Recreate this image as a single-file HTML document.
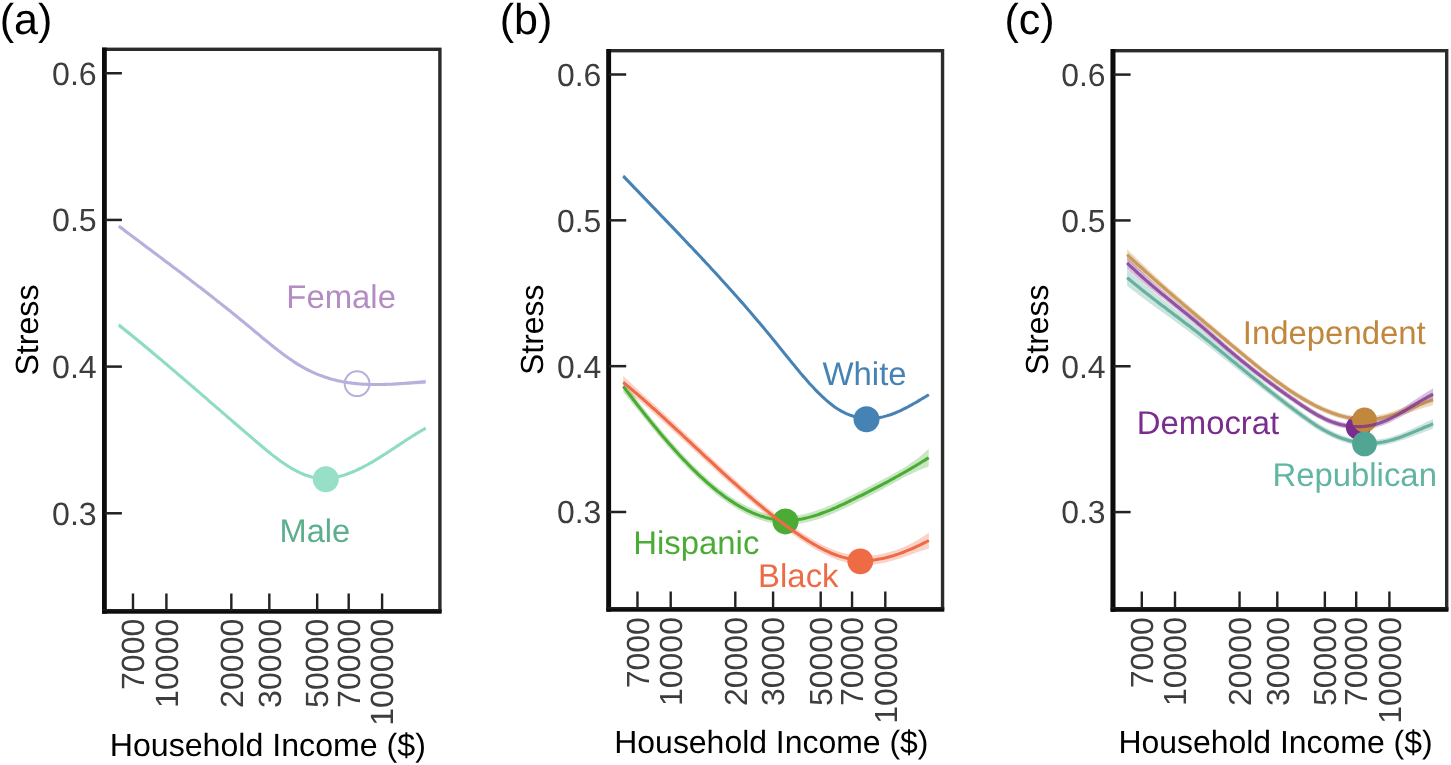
<!DOCTYPE html>
<html lang="en"><head><meta charset="utf-8"><title>Stress vs household income</title>
<style>html,body{margin:0;padding:0;background:#fff;}body{width:1451px;height:765px;overflow:hidden;font-family:"Liberation Sans", sans-serif;}svg text{font-family:"Liberation Sans",sans-serif;text-rendering:geometricPrecision;}#wrap{will-change:transform;transform:translateZ(0);opacity:0.9999;}</style></head>
<body>
<div id="wrap">
<svg width="1451" height="765" viewBox="0 0 1451 765" font-family='"Liberation Sans", sans-serif' style="display:block">
<rect width="1451" height="765" fill="#fff"/>
<g id="panel-a">
<path d="M118.8,224.4 L120.7,225.8 L122.7,227.3 L124.6,228.8 L126.5,230.3 L128.5,231.7 L130.4,233.2 L132.3,234.7 L134.2,236.1 L136.2,237.6 L138.1,239.1 L140.0,240.6 L142.0,242.0 L143.9,243.5 L145.8,245.0 L147.8,246.4 L149.7,247.9 L151.6,249.4 L153.5,250.8 L155.5,252.3 L157.4,253.8 L159.3,255.3 L161.3,256.7 L163.2,258.2 L165.1,259.7 L167.1,261.2 L169.0,262.6 L170.9,264.1 L172.8,265.6 L174.8,267.1 L176.7,268.6 L178.6,270.0 L180.6,271.5 L182.5,273.0 L184.4,274.5 L186.4,276.0 L188.3,277.5 L190.2,279.0 L192.1,280.5 L194.1,282.0 L196.0,283.5 L197.9,285.0 L199.9,286.5 L201.8,288.0 L203.7,289.5 L205.7,291.0 L207.6,292.5 L209.5,294.0 L211.4,295.5 L213.4,297.1 L215.3,298.6 L217.2,300.1 L219.2,301.6 L221.1,303.1 L223.0,304.7 L225.0,306.2 L226.9,307.7 L228.8,309.3 L230.8,310.8 L232.7,312.4 L234.6,313.9 L236.5,315.5 L238.5,317.1 L240.4,318.7 L242.3,320.2 L244.3,321.8 L246.2,323.4 L248.1,325.0 L250.1,326.6 L252.0,328.2 L253.9,329.8 L255.8,331.4 L257.8,333.0 L259.7,334.6 L261.6,336.3 L263.6,337.9 L265.5,339.4 L267.4,341.0 L269.4,342.6 L271.3,344.2 L273.2,345.7 L275.1,347.3 L277.1,348.8 L279.0,350.3 L280.9,351.7 L282.9,353.2 L284.8,354.6 L286.7,356.0 L288.7,357.4 L290.6,358.7 L292.5,360.0 L294.4,361.3 L296.4,362.6 L298.3,363.8 L300.2,364.9 L302.2,366.0 L304.1,367.1 L306.0,368.2 L308.0,369.2 L309.9,370.1 L311.8,371.0 L313.7,371.9 L315.7,372.8 L317.6,373.6 L319.5,374.3 L321.5,375.0 L323.4,375.7 L325.3,376.4 L327.3,377.0 L329.2,377.6 L331.1,378.2 L333.1,378.7 L335.0,379.2 L336.9,379.7 L338.8,380.1 L340.8,380.5 L342.7,380.9 L344.6,381.2 L346.6,381.6 L348.5,381.9 L350.4,382.1 L352.4,382.4 L354.3,382.6 L356.2,382.8 L358.1,383.0 L360.1,383.2 L362.0,383.3 L363.9,383.4 L365.9,383.5 L367.8,383.6 L369.7,383.7 L371.7,383.7 L373.6,383.7 L375.5,383.7 L377.4,383.7 L379.4,383.7 L381.3,383.7 L383.2,383.6 L385.2,383.4 L387.1,383.3 L389.0,383.2 L391.0,383.0 L392.9,382.9 L394.8,382.7 L396.7,382.6 L398.7,382.4 L400.6,382.2 L402.5,382.0 L404.5,381.8 L406.4,381.6 L408.3,381.4 L410.3,381.2 L412.2,381.0 L414.1,380.8 L416.0,380.6 L418.0,380.4 L419.9,380.2 L421.8,380.0 L423.8,379.8 L425.7,379.6 L425.7,384.0 L423.8,384.1 L421.8,384.2 L419.9,384.3 L418.0,384.3 L416.0,384.4 L414.1,384.5 L412.2,384.6 L410.3,384.7 L408.3,384.8 L406.4,384.8 L404.5,384.9 L402.5,385.0 L400.6,385.1 L398.7,385.1 L396.7,385.2 L394.8,385.2 L392.9,385.3 L391.0,385.3 L389.0,385.3 L387.1,385.4 L385.2,385.4 L383.2,385.4 L381.3,385.3 L379.4,385.3 L377.4,385.3 L375.5,385.3 L373.6,385.3 L371.7,385.3 L369.7,385.3 L367.8,385.2 L365.9,385.1 L363.9,385.0 L362.0,384.9 L360.1,384.8 L358.1,384.6 L356.2,384.4 L354.3,384.2 L352.4,384.0 L350.4,383.7 L348.5,383.5 L346.6,383.2 L344.6,382.8 L342.7,382.5 L340.8,382.1 L338.8,381.7 L336.9,381.3 L335.0,380.8 L333.1,380.3 L331.1,379.8 L329.2,379.2 L327.3,378.6 L325.3,378.0 L323.4,377.3 L321.5,376.6 L319.5,375.9 L317.6,375.2 L315.7,374.4 L313.7,373.5 L311.8,372.6 L309.9,371.7 L308.0,370.8 L306.0,369.8 L304.1,368.7 L302.2,367.6 L300.2,366.5 L298.3,365.4 L296.4,364.2 L294.4,362.9 L292.5,361.6 L290.6,360.3 L288.7,359.0 L286.7,357.6 L284.8,356.2 L282.9,354.8 L280.9,353.3 L279.0,351.9 L277.1,350.4 L275.1,348.9 L273.2,347.3 L271.3,345.8 L269.4,344.2 L267.4,342.6 L265.5,341.0 L263.6,339.5 L261.6,337.9 L259.7,336.2 L257.8,334.6 L255.8,333.0 L253.9,331.4 L252.0,329.8 L250.1,328.2 L248.1,326.6 L246.2,325.0 L244.3,323.4 L242.3,321.8 L240.4,320.3 L238.5,318.7 L236.5,317.1 L234.6,315.5 L232.7,314.0 L230.8,312.4 L228.8,310.9 L226.9,309.3 L225.0,307.8 L223.0,306.3 L221.1,304.7 L219.2,303.2 L217.2,301.7 L215.3,300.2 L213.4,298.7 L211.4,297.1 L209.5,295.6 L207.6,294.1 L205.7,292.6 L203.7,291.1 L201.8,289.6 L199.9,288.1 L197.9,286.7 L196.0,285.2 L194.1,283.8 L192.1,282.3 L190.2,280.8 L188.3,279.4 L186.4,277.9 L184.4,276.5 L182.5,275.1 L180.6,273.6 L178.6,272.2 L176.7,270.7 L174.8,269.3 L172.8,267.9 L170.9,266.4 L169.0,265.0 L167.1,263.6 L165.1,262.1 L163.2,260.7 L161.3,259.3 L159.3,257.8 L157.4,256.4 L155.5,255.0 L153.5,253.6 L151.6,252.1 L149.7,250.7 L147.8,249.3 L145.8,247.9 L143.9,246.5 L142.0,245.0 L140.0,243.6 L138.1,242.2 L136.2,240.8 L134.2,239.3 L132.3,237.9 L130.4,236.5 L128.5,235.1 L126.5,233.7 L124.6,232.2 L122.7,230.8 L120.7,229.4 L118.8,227.9Z" fill="#b5b0dc" fill-opacity="0.35" stroke="none"/>
<path d="M118.8,226.2 L120.7,227.6 L122.7,229.1 L124.6,230.5 L126.5,232.0 L128.5,233.4 L130.4,234.9 L132.3,236.3 L134.2,237.7 L136.2,239.2 L138.1,240.6 L140.0,242.1 L142.0,243.5 L143.9,245.0 L145.8,246.4 L147.8,247.9 L149.7,249.3 L151.6,250.8 L153.5,252.2 L155.5,253.7 L157.4,255.1 L159.3,256.6 L161.3,258.0 L163.2,259.5 L165.1,260.9 L167.1,262.4 L169.0,263.8 L170.9,265.3 L172.8,266.7 L174.8,268.2 L176.7,269.6 L178.6,271.1 L180.6,272.6 L182.5,274.0 L184.4,275.5 L186.4,277.0 L188.3,278.4 L190.2,279.9 L192.1,281.4 L194.1,282.9 L196.0,284.4 L197.9,285.9 L199.9,287.3 L201.8,288.8 L203.7,290.3 L205.7,291.8 L207.6,293.3 L209.5,294.8 L211.4,296.3 L213.4,297.9 L215.3,299.4 L217.2,300.9 L219.2,302.4 L221.1,303.9 L223.0,305.5 L225.0,307.0 L226.9,308.5 L228.8,310.1 L230.8,311.6 L232.7,313.2 L234.6,314.7 L236.5,316.3 L238.5,317.9 L240.4,319.5 L242.3,321.0 L244.3,322.6 L246.2,324.2 L248.1,325.8 L250.1,327.4 L252.0,329.0 L253.9,330.6 L255.8,332.2 L257.8,333.8 L259.7,335.4 L261.6,337.1 L263.6,338.7 L265.5,340.2 L267.4,341.8 L269.4,343.4 L271.3,345.0 L273.2,346.5 L275.1,348.1 L277.1,349.6 L279.0,351.1 L280.9,352.5 L282.9,354.0 L284.8,355.4 L286.7,356.8 L288.7,358.2 L290.6,359.5 L292.5,360.8 L294.4,362.1 L296.4,363.4 L298.3,364.6 L300.2,365.7 L302.2,366.8 L304.1,367.9 L306.0,369.0 L308.0,370.0 L309.9,370.9 L311.8,371.8 L313.7,372.7 L315.7,373.6 L317.6,374.4 L319.5,375.1 L321.5,375.8 L323.4,376.5 L325.3,377.2 L327.3,377.8 L329.2,378.4 L331.1,379.0 L333.1,379.5 L335.0,380.0 L336.9,380.5 L338.8,380.9 L340.8,381.3 L342.7,381.7 L344.6,382.0 L346.6,382.4 L348.5,382.7 L350.4,382.9 L352.4,383.2 L354.3,383.4 L356.2,383.6 L358.1,383.8 L360.1,384.0 L362.0,384.1 L363.9,384.2 L365.9,384.3 L367.8,384.4 L369.7,384.5 L371.7,384.5 L373.6,384.5 L375.5,384.5 L377.4,384.5 L379.4,384.5 L381.3,384.5 L383.2,384.5 L385.2,384.4 L387.1,384.3 L389.0,384.3 L391.0,384.2 L392.9,384.1 L394.8,384.0 L396.7,383.9 L398.7,383.8 L400.6,383.6 L402.5,383.5 L404.5,383.4 L406.4,383.2 L408.3,383.1 L410.3,383.0 L412.2,382.8 L414.1,382.7 L416.0,382.5 L418.0,382.4 L419.9,382.2 L421.8,382.1 L423.8,382.0 L425.7,381.8" fill="none" stroke="#b5b0dc" stroke-width="3.1" stroke-opacity="1.0" stroke-linecap="butt" stroke-linejoin="round"/>
<path d="M118.8,322.5 L120.7,324.1 L122.7,325.7 L124.6,327.3 L126.5,328.9 L128.5,330.5 L130.4,332.1 L132.3,333.7 L134.2,335.3 L136.2,336.9 L138.1,338.6 L140.0,340.2 L142.0,341.8 L143.9,343.5 L145.8,345.1 L147.8,346.7 L149.7,348.4 L151.6,350.0 L153.5,351.7 L155.5,353.3 L157.4,355.0 L159.3,356.7 L161.3,358.3 L163.2,360.0 L165.1,361.7 L167.1,363.4 L169.0,365.0 L170.9,366.7 L172.8,368.4 L174.8,370.1 L176.7,371.8 L178.6,373.5 L180.6,375.1 L182.5,376.8 L184.4,378.5 L186.4,380.2 L188.3,381.9 L190.2,383.6 L192.1,385.3 L194.1,387.0 L196.0,388.7 L197.9,390.4 L199.9,392.1 L201.8,393.8 L203.7,395.5 L205.7,397.1 L207.6,398.8 L209.5,400.5 L211.4,402.2 L213.4,403.8 L215.3,405.5 L217.2,407.2 L219.2,408.8 L221.1,410.5 L223.0,412.2 L225.0,413.8 L226.9,415.5 L228.8,417.2 L230.8,418.8 L232.7,420.5 L234.6,422.2 L236.5,423.8 L238.5,425.5 L240.4,427.2 L242.3,428.8 L244.3,430.5 L246.2,432.2 L248.1,433.8 L250.1,435.5 L252.0,437.1 L253.9,438.8 L255.8,440.4 L257.8,442.1 L259.7,443.7 L261.6,445.4 L263.6,447.0 L265.5,448.6 L267.4,450.2 L269.4,451.7 L271.3,453.3 L273.2,454.8 L275.1,456.3 L277.1,457.7 L279.0,459.2 L280.9,460.6 L282.9,461.9 L284.8,463.2 L286.7,464.5 L288.7,465.7 L290.6,466.9 L292.5,468.1 L294.4,469.1 L296.4,470.2 L298.3,471.1 L300.2,472.0 L302.2,472.9 L304.1,473.7 L306.0,474.4 L308.0,475.0 L309.9,475.6 L311.8,476.1 L313.7,476.5 L315.7,476.9 L317.6,477.1 L319.5,477.3 L321.5,477.5 L323.4,477.5 L325.3,477.5 L327.3,477.4 L329.2,477.3 L331.1,477.1 L333.1,476.8 L335.0,476.5 L336.9,476.1 L338.8,475.7 L340.8,475.2 L342.7,474.7 L344.6,474.1 L346.6,473.4 L348.5,472.7 L350.4,472.0 L352.4,471.2 L354.3,470.4 L356.2,469.6 L358.1,468.7 L360.1,467.7 L362.0,466.8 L363.9,465.8 L365.9,464.7 L367.8,463.7 L369.7,462.6 L371.7,461.5 L373.6,460.4 L375.5,459.2 L377.4,458.0 L379.4,456.8 L381.3,455.6 L383.2,454.4 L385.2,453.1 L387.1,451.8 L389.0,450.5 L391.0,449.2 L392.9,447.9 L394.8,446.6 L396.7,445.3 L398.7,444.0 L400.6,442.7 L402.5,441.4 L404.5,440.1 L406.4,438.8 L408.3,437.6 L410.3,436.3 L412.2,435.0 L414.1,433.8 L416.0,432.5 L418.0,431.3 L419.9,430.1 L421.8,429.0 L423.8,427.8 L425.7,426.7 L425.7,429.7 L423.8,430.7 L421.8,431.8 L419.9,432.9 L418.0,434.1 L416.0,435.2 L414.1,436.4 L412.2,437.6 L410.3,438.8 L408.3,440.0 L406.4,441.2 L404.5,442.5 L402.5,443.7 L400.6,445.0 L398.7,446.2 L396.7,447.4 L394.8,448.7 L392.9,449.9 L391.0,451.2 L389.0,452.4 L387.1,453.6 L385.2,454.9 L383.2,456.1 L381.3,457.3 L379.4,458.4 L377.4,459.6 L375.5,460.8 L373.6,462.0 L371.7,463.1 L369.7,464.2 L367.8,465.3 L365.9,466.3 L363.9,467.4 L362.0,468.4 L360.1,469.3 L358.1,470.3 L356.2,471.2 L354.3,472.0 L352.4,472.8 L350.4,473.6 L348.5,474.3 L346.6,475.0 L344.6,475.7 L342.7,476.3 L340.8,476.8 L338.8,477.3 L336.9,477.7 L335.0,478.1 L333.1,478.4 L331.1,478.7 L329.2,478.9 L327.3,479.0 L325.3,479.1 L323.4,479.1 L321.5,479.1 L319.5,478.9 L317.6,478.7 L315.7,478.5 L313.7,478.1 L311.8,477.7 L309.9,477.2 L308.0,476.6 L306.0,476.0 L304.1,475.3 L302.2,474.5 L300.2,473.6 L298.3,472.7 L296.4,471.8 L294.4,470.7 L292.5,469.7 L290.6,468.5 L288.7,467.3 L286.7,466.1 L284.8,464.8 L282.9,463.5 L280.9,462.2 L279.0,460.8 L277.1,459.3 L275.1,457.9 L273.2,456.4 L271.3,454.9 L269.4,453.3 L267.4,451.8 L265.5,450.2 L263.6,448.6 L261.6,447.0 L259.7,445.3 L257.8,443.7 L255.8,442.0 L253.9,440.4 L252.0,438.7 L250.1,437.1 L248.1,435.4 L246.2,433.8 L244.3,432.1 L242.3,430.4 L240.4,428.8 L238.5,427.1 L236.5,425.4 L234.6,423.8 L232.7,422.1 L230.8,420.4 L228.8,418.8 L226.9,417.1 L225.0,415.4 L223.0,413.8 L221.1,412.1 L219.2,410.4 L217.2,408.8 L215.3,407.1 L213.4,405.4 L211.4,403.8 L209.5,402.1 L207.6,400.4 L205.7,398.7 L203.7,397.1 L201.8,395.4 L199.9,393.8 L197.9,392.1 L196.0,390.5 L194.1,388.9 L192.1,387.3 L190.2,385.6 L188.3,384.0 L186.4,382.4 L184.4,380.8 L182.5,379.2 L180.6,377.6 L178.6,375.9 L176.7,374.3 L174.8,372.7 L172.8,371.1 L170.9,369.5 L169.0,367.9 L167.1,366.3 L165.1,364.7 L163.2,363.1 L161.3,361.5 L159.3,360.0 L157.4,358.4 L155.5,356.8 L153.5,355.2 L151.6,353.6 L149.7,352.1 L147.8,350.5 L145.8,348.9 L143.9,347.4 L142.0,345.8 L140.0,344.3 L138.1,342.7 L136.2,341.2 L134.2,339.6 L132.3,338.1 L130.4,336.6 L128.5,335.0 L126.5,333.5 L124.6,332.0 L122.7,330.5 L120.7,329.0 L118.8,327.5Z" fill="#8fdcc2" fill-opacity="0.35" stroke="none"/>
<path d="M118.8,325.0 L120.7,326.5 L122.7,328.1 L124.6,329.6 L126.5,331.2 L128.5,332.8 L130.4,334.3 L132.3,335.9 L134.2,337.5 L136.2,339.0 L138.1,340.6 L140.0,342.2 L142.0,343.8 L143.9,345.4 L145.8,347.0 L147.8,348.6 L149.7,350.2 L151.6,351.8 L153.5,353.5 L155.5,355.1 L157.4,356.7 L159.3,358.3 L161.3,359.9 L163.2,361.6 L165.1,363.2 L167.1,364.8 L169.0,366.5 L170.9,368.1 L172.8,369.8 L174.8,371.4 L176.7,373.1 L178.6,374.7 L180.6,376.4 L182.5,378.0 L184.4,379.7 L186.4,381.3 L188.3,383.0 L190.2,384.6 L192.1,386.3 L194.1,388.0 L196.0,389.6 L197.9,391.3 L199.9,392.9 L201.8,394.6 L203.7,396.3 L205.7,397.9 L207.6,399.6 L209.5,401.3 L211.4,403.0 L213.4,404.6 L215.3,406.3 L217.2,408.0 L219.2,409.6 L221.1,411.3 L223.0,413.0 L225.0,414.6 L226.9,416.3 L228.8,418.0 L230.8,419.6 L232.7,421.3 L234.6,423.0 L236.5,424.6 L238.5,426.3 L240.4,428.0 L242.3,429.6 L244.3,431.3 L246.2,433.0 L248.1,434.6 L250.1,436.3 L252.0,437.9 L253.9,439.6 L255.8,441.2 L257.8,442.9 L259.7,444.5 L261.6,446.2 L263.6,447.8 L265.5,449.4 L267.4,451.0 L269.4,452.5 L271.3,454.1 L273.2,455.6 L275.1,457.1 L277.1,458.5 L279.0,460.0 L280.9,461.4 L282.9,462.7 L284.8,464.0 L286.7,465.3 L288.7,466.5 L290.6,467.7 L292.5,468.9 L294.4,469.9 L296.4,471.0 L298.3,471.9 L300.2,472.8 L302.2,473.7 L304.1,474.5 L306.0,475.2 L308.0,475.8 L309.9,476.4 L311.8,476.9 L313.7,477.3 L315.7,477.7 L317.6,477.9 L319.5,478.1 L321.5,478.3 L323.4,478.3 L325.3,478.3 L327.3,478.2 L329.2,478.1 L331.1,477.9 L333.1,477.6 L335.0,477.3 L336.9,476.9 L338.8,476.5 L340.8,476.0 L342.7,475.5 L344.6,474.9 L346.6,474.2 L348.5,473.5 L350.4,472.8 L352.4,472.0 L354.3,471.2 L356.2,470.4 L358.1,469.5 L360.1,468.5 L362.0,467.6 L363.9,466.6 L365.9,465.5 L367.8,464.5 L369.7,463.4 L371.7,462.3 L373.6,461.2 L375.5,460.0 L377.4,458.8 L379.4,457.6 L381.3,456.4 L383.2,455.2 L385.2,454.0 L387.1,452.7 L389.0,451.5 L391.0,450.2 L392.9,448.9 L394.8,447.7 L396.7,446.4 L398.7,445.1 L400.6,443.8 L402.5,442.6 L404.5,441.3 L406.4,440.0 L408.3,438.8 L410.3,437.5 L412.2,436.3 L414.1,435.1 L416.0,433.9 L418.0,432.7 L419.9,431.5 L421.8,430.4 L423.8,429.3 L425.7,428.2" fill="none" stroke="#8fdcc2" stroke-width="3.1" stroke-opacity="1.0" stroke-linecap="butt" stroke-linejoin="round"/>
<circle cx="357.1" cy="383.7" r="12.4" fill="none" stroke="#b5b0dc" stroke-width="2.0"/>
<circle cx="325.8" cy="479.3" r="13" fill="#98dfc8"/>
<text x="286.30" y="307.80" font-size="32.9" fill="#b48cc4">Female</text>
<text x="279.50" y="541.60" font-size="32.6" fill="#5cae8c">Male</text>
<rect x="103.70" y="49.30" width="336.20" height="561.50" fill="none" stroke="#2b2b2b" stroke-width="3.40"/>
<rect x="102.00" y="47.60" width="4.80" height="566.10" fill="#0c0c0c"/>
<rect x="102.00" y="610.20" width="339.60" height="3.50" fill="#0c0c0c"/>
<rect x="102.00" y="609.00" width="339.60" height="1.6" fill="#1d1d1d"/>
<rect x="104.80" y="72.00" width="17.10" height="2.5" fill="#222"/>
<text x="96.70" y="84.66" font-size="32.15" fill="#3d3d3d" text-anchor="end">0.6</text>
<rect x="104.80" y="218.68" width="17.10" height="2.5" fill="#222"/>
<text x="96.70" y="231.34" font-size="32.15" fill="#3d3d3d" text-anchor="end">0.5</text>
<rect x="104.80" y="365.36" width="17.10" height="2.5" fill="#222"/>
<text x="96.70" y="378.02" font-size="32.15" fill="#3d3d3d" text-anchor="end">0.4</text>
<rect x="104.80" y="512.04" width="17.10" height="2.5" fill="#222"/>
<text x="96.70" y="524.70" font-size="32.15" fill="#3d3d3d" text-anchor="end">0.3</text>
<rect x="131.79" y="593.50" width="2.4" height="17" fill="#222"/>
<text transform="translate(144.30,618.50) rotate(-90)" font-size="32.15" fill="#3d3d3d" text-anchor="end">7000</text>
<rect x="165.20" y="593.50" width="2.4" height="17" fill="#222"/>
<text transform="translate(177.71,618.50) rotate(-90)" font-size="32.15" fill="#3d3d3d" text-anchor="end">10000</text>
<rect x="230.13" y="593.50" width="2.4" height="17" fill="#222"/>
<text transform="translate(242.64,618.50) rotate(-90)" font-size="32.15" fill="#3d3d3d" text-anchor="end">20000</text>
<rect x="268.12" y="593.50" width="2.4" height="17" fill="#222"/>
<text transform="translate(280.62,618.50) rotate(-90)" font-size="32.15" fill="#3d3d3d" text-anchor="end">30000</text>
<rect x="315.97" y="593.50" width="2.4" height="17" fill="#222"/>
<text transform="translate(328.48,618.50) rotate(-90)" font-size="32.15" fill="#3d3d3d" text-anchor="end">50000</text>
<rect x="347.49" y="593.50" width="2.4" height="17" fill="#222"/>
<text transform="translate(360.00,618.50) rotate(-90)" font-size="32.15" fill="#3d3d3d" text-anchor="end">70000</text>
<rect x="380.90" y="593.50" width="2.4" height="17" fill="#222"/>
<text transform="translate(393.41,618.50) rotate(-90)" font-size="32.15" fill="#3d3d3d" text-anchor="end">100000</text>
<text transform="translate(38.40,330.05) rotate(-90)" font-size="32.15" fill="#000" text-anchor="middle">Stress</text>
<text x="109.70" y="755.80" font-size="32.15" fill="#000">Household Income ($)</text>
<text x="-0.30" y="34.00" font-size="43" fill="#000">(a)</text>
</g>
<g id="panel-b">
<path d="M623.3,174.1 L625.2,176.2 L627.1,178.2 L629.1,180.3 L631.0,182.3 L632.9,184.4 L634.8,186.4 L636.8,188.4 L638.7,190.5 L640.6,192.5 L642.5,194.5 L644.4,196.6 L646.4,198.6 L648.3,200.7 L650.2,202.7 L652.1,204.7 L654.1,206.8 L656.0,208.8 L657.9,210.8 L659.8,212.9 L661.7,214.9 L663.7,217.0 L665.6,219.0 L667.5,221.0 L669.4,223.1 L671.4,225.1 L673.3,227.2 L675.2,229.2 L677.1,231.3 L679.0,233.3 L681.0,235.4 L682.9,237.4 L684.8,239.4 L686.7,241.4 L688.6,243.5 L690.6,245.5 L692.5,247.5 L694.4,249.6 L696.3,251.6 L698.3,253.7 L700.2,255.7 L702.1,257.8 L704.0,259.8 L705.9,261.9 L707.9,264.0 L709.8,266.0 L711.7,268.1 L713.6,270.2 L715.6,272.3 L717.5,274.4 L719.4,276.5 L721.3,278.6 L723.2,280.7 L725.2,282.9 L727.1,285.0 L729.0,287.1 L730.9,289.3 L732.9,291.4 L734.8,293.6 L736.7,295.8 L738.6,297.9 L740.5,300.1 L742.5,302.3 L744.4,304.5 L746.3,306.7 L748.2,309.0 L750.2,311.2 L752.1,313.4 L754.0,315.7 L755.9,317.9 L757.8,320.2 L759.8,322.5 L761.7,324.7 L763.6,327.0 L765.5,329.3 L767.5,331.7 L769.4,334.0 L771.3,336.3 L773.2,338.7 L775.1,341.0 L777.1,343.4 L779.0,345.8 L780.9,348.2 L782.8,350.6 L784.7,353.0 L786.7,355.4 L788.6,357.7 L790.5,360.1 L792.4,362.5 L794.4,364.8 L796.3,367.2 L798.2,369.5 L800.1,371.8 L802.0,374.1 L804.0,376.3 L805.9,378.5 L807.8,380.7 L809.7,382.9 L811.7,385.0 L813.6,387.0 L815.5,389.1 L817.4,391.0 L819.3,392.9 L821.3,394.8 L823.2,396.6 L825.1,398.4 L827.0,400.0 L829.0,401.7 L830.9,403.2 L832.8,404.7 L834.7,406.1 L836.6,407.4 L838.6,408.7 L840.5,409.8 L842.4,410.9 L844.3,411.9 L846.3,412.8 L848.2,413.6 L850.1,414.4 L852.0,415.0 L853.9,415.6 L855.9,416.2 L857.8,416.6 L859.7,417.0 L861.6,417.3 L863.6,417.5 L865.5,417.6 L867.4,417.7 L869.3,417.7 L871.2,417.7 L873.2,417.6 L875.1,417.4 L877.0,417.2 L878.9,416.9 L880.8,416.5 L882.8,416.1 L884.7,415.6 L886.6,415.1 L888.5,414.5 L890.5,413.9 L892.4,413.2 L894.3,412.5 L896.2,411.7 L898.1,410.9 L900.1,410.0 L902.0,409.1 L903.9,408.1 L905.8,407.2 L907.8,406.2 L909.7,405.1 L911.6,404.1 L913.5,403.0 L915.4,401.9 L917.4,400.8 L919.3,399.6 L921.2,398.5 L923.1,397.3 L925.1,396.2 L927.0,395.0 L928.9,393.9 L928.9,395.5 L927.0,396.6 L925.1,397.8 L923.1,398.9 L921.2,400.1 L919.3,401.2 L917.4,402.4 L915.4,403.5 L913.5,404.6 L911.6,405.7 L909.7,406.7 L907.8,407.8 L905.8,408.8 L903.9,409.7 L902.0,410.7 L900.1,411.6 L898.1,412.5 L896.2,413.3 L894.3,414.1 L892.4,414.8 L890.5,415.5 L888.5,416.1 L886.6,416.7 L884.7,417.2 L882.8,417.7 L880.8,418.1 L878.9,418.5 L877.0,418.8 L875.1,419.0 L873.2,419.2 L871.2,419.3 L869.3,419.3 L867.4,419.3 L865.5,419.2 L863.6,419.1 L861.6,418.9 L859.7,418.6 L857.8,418.2 L855.9,417.8 L853.9,417.2 L852.0,416.6 L850.1,416.0 L848.2,415.2 L846.3,414.4 L844.3,413.5 L842.4,412.5 L840.5,411.4 L838.6,410.3 L836.6,409.0 L834.7,407.7 L832.8,406.3 L830.9,404.8 L829.0,403.3 L827.0,401.6 L825.1,400.0 L823.2,398.2 L821.3,396.4 L819.3,394.5 L817.4,392.6 L815.5,390.7 L813.6,388.6 L811.7,386.6 L809.7,384.5 L807.8,382.3 L805.9,380.1 L804.0,377.9 L802.0,375.7 L800.1,373.4 L798.2,371.1 L796.3,368.8 L794.4,366.4 L792.4,364.1 L790.5,361.7 L788.6,359.3 L786.7,357.0 L784.7,354.6 L782.8,352.2 L780.9,349.8 L779.0,347.4 L777.1,345.0 L775.1,342.6 L773.2,340.3 L771.3,337.9 L769.4,335.6 L767.5,333.3 L765.5,330.9 L763.6,328.6 L761.7,326.3 L759.8,324.1 L757.8,321.8 L755.9,319.5 L754.0,317.3 L752.1,315.0 L750.2,312.8 L748.2,310.6 L746.3,308.3 L744.4,306.1 L742.5,303.9 L740.5,301.7 L738.6,299.5 L736.7,297.4 L734.8,295.2 L732.9,293.0 L730.9,290.9 L729.0,288.7 L727.1,286.6 L725.2,284.5 L723.2,282.3 L721.3,280.2 L719.4,278.1 L717.5,276.0 L715.6,273.9 L713.6,271.8 L711.7,269.7 L709.8,267.6 L707.9,265.6 L705.9,263.5 L704.0,261.4 L702.1,259.4 L700.2,257.3 L698.3,255.3 L696.3,253.2 L694.4,251.2 L692.5,249.1 L690.6,247.1 L688.6,245.1 L686.7,243.0 L684.8,241.0 L682.9,239.0 L681.0,237.0 L679.0,235.0 L677.1,233.0 L675.2,231.0 L673.3,229.1 L671.4,227.1 L669.4,225.1 L667.5,223.2 L665.6,221.2 L663.7,219.2 L661.7,217.3 L659.8,215.3 L657.9,213.4 L656.0,211.4 L654.1,209.5 L652.1,207.5 L650.2,205.5 L648.3,203.6 L646.4,201.6 L644.4,199.7 L642.5,197.7 L640.6,195.8 L638.7,193.8 L636.8,191.9 L634.8,189.9 L632.9,187.9 L631.0,186.0 L629.1,184.0 L627.1,182.0 L625.2,180.1 L623.3,178.1Z" fill="#4682b4" fill-opacity="0.35" stroke="none"/>
<path d="M623.3,176.1 L625.2,178.1 L627.1,180.1 L629.1,182.1 L631.0,184.1 L632.9,186.1 L634.8,188.1 L636.8,190.1 L638.7,192.1 L640.6,194.1 L642.5,196.1 L644.4,198.1 L646.4,200.1 L648.3,202.1 L650.2,204.1 L652.1,206.1 L654.1,208.1 L656.0,210.1 L657.9,212.1 L659.8,214.1 L661.7,216.1 L663.7,218.1 L665.6,220.1 L667.5,222.1 L669.4,224.1 L671.4,226.1 L673.3,228.1 L675.2,230.1 L677.1,232.1 L679.0,234.1 L681.0,236.2 L682.9,238.2 L684.8,240.2 L686.7,242.2 L688.6,244.3 L690.6,246.3 L692.5,248.3 L694.4,250.4 L696.3,252.4 L698.3,254.5 L700.2,256.5 L702.1,258.6 L704.0,260.6 L705.9,262.7 L707.9,264.8 L709.8,266.8 L711.7,268.9 L713.6,271.0 L715.6,273.1 L717.5,275.2 L719.4,277.3 L721.3,279.4 L723.2,281.5 L725.2,283.7 L727.1,285.8 L729.0,287.9 L730.9,290.1 L732.9,292.2 L734.8,294.4 L736.7,296.6 L738.6,298.7 L740.5,300.9 L742.5,303.1 L744.4,305.3 L746.3,307.5 L748.2,309.8 L750.2,312.0 L752.1,314.2 L754.0,316.5 L755.9,318.7 L757.8,321.0 L759.8,323.3 L761.7,325.5 L763.6,327.8 L765.5,330.1 L767.5,332.5 L769.4,334.8 L771.3,337.1 L773.2,339.5 L775.1,341.8 L777.1,344.2 L779.0,346.6 L780.9,349.0 L782.8,351.4 L784.7,353.8 L786.7,356.2 L788.6,358.5 L790.5,360.9 L792.4,363.3 L794.4,365.6 L796.3,368.0 L798.2,370.3 L800.1,372.6 L802.0,374.9 L804.0,377.1 L805.9,379.3 L807.8,381.5 L809.7,383.7 L811.7,385.8 L813.6,387.8 L815.5,389.9 L817.4,391.8 L819.3,393.7 L821.3,395.6 L823.2,397.4 L825.1,399.2 L827.0,400.8 L829.0,402.5 L830.9,404.0 L832.8,405.5 L834.7,406.9 L836.6,408.2 L838.6,409.5 L840.5,410.6 L842.4,411.7 L844.3,412.7 L846.3,413.6 L848.2,414.4 L850.1,415.2 L852.0,415.8 L853.9,416.4 L855.9,417.0 L857.8,417.4 L859.7,417.8 L861.6,418.1 L863.6,418.3 L865.5,418.4 L867.4,418.5 L869.3,418.5 L871.2,418.5 L873.2,418.4 L875.1,418.2 L877.0,418.0 L878.9,417.7 L880.8,417.3 L882.8,416.9 L884.7,416.4 L886.6,415.9 L888.5,415.3 L890.5,414.7 L892.4,414.0 L894.3,413.3 L896.2,412.5 L898.1,411.7 L900.1,410.8 L902.0,409.9 L903.9,408.9 L905.8,408.0 L907.8,407.0 L909.7,405.9 L911.6,404.9 L913.5,403.8 L915.4,402.7 L917.4,401.6 L919.3,400.4 L921.2,399.3 L923.1,398.1 L925.1,397.0 L927.0,395.8 L928.9,394.7" fill="none" stroke="#4682b4" stroke-width="3.05" stroke-opacity="1.0" stroke-linecap="butt" stroke-linejoin="round"/>
<path d="M623.3,380.4 L625.2,383.1 L627.1,385.8 L629.1,388.5 L631.0,391.2 L632.9,393.8 L634.8,396.5 L636.7,399.1 L638.7,401.8 L640.6,404.3 L642.5,406.8 L644.4,409.2 L646.3,411.7 L648.3,414.1 L650.2,416.5 L652.1,418.9 L654.0,421.2 L656.0,423.6 L657.9,425.9 L659.8,428.2 L661.7,430.5 L663.6,432.8 L665.6,435.1 L667.5,437.3 L669.4,439.5 L671.3,441.7 L673.2,443.9 L675.2,446.1 L677.1,448.2 L679.0,450.3 L680.9,452.4 L682.8,454.5 L684.8,456.5 L686.7,458.5 L688.6,460.5 L690.5,462.5 L692.4,464.4 L694.4,466.3 L696.3,468.2 L698.2,470.1 L700.1,471.9 L702.1,473.7 L704.0,475.4 L705.9,477.2 L707.8,478.9 L709.7,480.6 L711.7,482.2 L713.6,483.8 L715.5,485.4 L717.4,486.9 L719.3,488.4 L721.3,489.9 L723.2,491.3 L725.1,492.7 L727.0,494.1 L728.9,495.4 L730.9,496.7 L732.8,498.0 L734.7,499.2 L736.6,500.4 L738.5,501.6 L740.5,502.7 L742.4,503.7 L744.3,504.8 L746.2,505.8 L748.1,506.7 L750.1,507.6 L752.0,508.5 L753.9,509.3 L755.8,510.1 L757.8,510.8 L759.7,511.5 L761.6,512.2 L763.5,512.8 L765.4,513.3 L767.4,513.9 L769.3,514.3 L771.2,514.8 L773.1,515.1 L775.0,515.5 L777.0,515.7 L778.9,516.0 L780.8,516.1 L782.7,516.3 L784.6,516.4 L786.6,516.4 L788.5,516.3 L790.4,516.2 L792.3,516.0 L794.2,515.8 L796.2,515.6 L798.1,515.3 L800.0,515.0 L801.9,514.6 L803.9,514.2 L805.8,513.7 L807.7,513.2 L809.6,512.7 L811.5,512.2 L813.5,511.6 L815.4,510.9 L817.3,510.3 L819.2,509.6 L821.1,508.9 L823.1,508.2 L825.0,507.4 L826.9,506.6 L828.8,505.8 L830.7,505.0 L832.7,504.2 L834.6,503.3 L836.5,502.5 L838.4,501.6 L840.3,500.7 L842.3,499.9 L844.2,499.0 L846.1,498.0 L848.0,497.1 L849.9,496.2 L851.9,495.2 L853.8,494.3 L855.7,493.4 L857.6,492.4 L859.6,491.4 L861.5,490.5 L863.4,489.5 L865.3,488.5 L867.2,487.6 L869.2,486.6 L871.1,485.6 L873.0,484.6 L874.9,483.6 L876.8,482.6 L878.8,481.6 L880.7,480.6 L882.6,479.6 L884.5,478.5 L886.4,477.5 L888.4,476.5 L890.3,475.4 L892.2,474.4 L894.1,473.3 L896.0,472.2 L898.0,471.2 L899.9,470.1 L901.8,469.0 L903.7,467.9 L905.7,466.7 L907.6,465.4 L909.5,464.1 L911.4,462.8 L913.3,461.4 L915.3,460.1 L917.2,458.7 L919.1,457.2 L921.0,455.6 L922.9,453.9 L924.9,452.3 L926.8,450.6 L928.7,448.9 L928.7,466.6 L926.8,467.3 L924.9,468.0 L922.9,468.7 L921.0,469.4 L919.1,470.1 L917.2,470.9 L915.3,471.9 L913.3,472.8 L911.4,473.7 L909.5,474.7 L907.6,475.6 L905.7,476.5 L903.7,477.5 L901.8,478.6 L899.9,479.7 L898.0,480.8 L896.0,481.8 L894.1,482.9 L892.2,484.0 L890.3,485.0 L888.4,486.1 L886.4,487.1 L884.5,488.1 L882.6,489.2 L880.7,490.2 L878.8,491.2 L876.8,492.2 L874.9,493.2 L873.0,494.2 L871.1,495.2 L869.2,496.2 L867.2,497.2 L865.3,498.1 L863.4,499.1 L861.5,500.1 L859.6,501.0 L857.6,502.0 L855.7,503.0 L853.8,503.9 L851.9,504.8 L849.9,505.8 L848.0,506.7 L846.1,507.6 L844.2,508.6 L842.3,509.5 L840.3,510.3 L838.4,511.2 L836.5,512.1 L834.6,512.9 L832.7,513.8 L830.7,514.6 L828.8,515.4 L826.9,516.1 L825.0,516.8 L823.1,517.5 L821.1,518.2 L819.2,518.8 L817.3,519.4 L815.4,520.0 L813.5,520.6 L811.5,521.1 L809.6,521.6 L807.7,522.0 L805.8,522.5 L803.9,522.8 L801.9,523.2 L800.0,523.5 L798.1,523.8 L796.2,524.0 L794.2,524.2 L792.3,524.3 L790.4,524.4 L788.5,524.4 L786.6,524.4 L784.6,524.4 L782.7,524.3 L780.8,524.2 L778.9,524.0 L777.0,523.8 L775.0,523.5 L773.1,523.2 L771.2,522.8 L769.3,522.4 L767.4,521.9 L765.4,521.4 L763.5,520.9 L761.6,520.3 L759.7,519.7 L757.8,519.0 L755.8,518.2 L753.9,517.5 L752.0,516.6 L750.1,515.8 L748.1,514.9 L746.2,514.0 L744.3,513.0 L742.4,511.9 L740.5,510.9 L738.5,509.8 L736.6,508.6 L734.7,507.5 L732.8,506.3 L730.9,505.0 L728.9,503.7 L727.0,502.4 L725.1,501.0 L723.2,499.6 L721.3,498.2 L719.3,496.7 L717.4,495.2 L715.5,493.7 L713.6,492.1 L711.7,490.5 L709.7,488.9 L707.8,487.2 L705.9,485.6 L704.0,483.8 L702.1,482.1 L700.1,480.3 L698.2,478.5 L696.3,476.7 L694.4,474.8 L692.4,472.9 L690.5,471.0 L688.6,469.1 L686.7,467.1 L684.8,465.1 L682.8,463.1 L680.9,461.1 L679.0,459.0 L677.1,456.9 L675.2,454.8 L673.2,452.7 L671.3,450.5 L669.4,448.4 L667.5,446.2 L665.6,443.9 L663.6,441.7 L661.7,439.5 L659.8,437.2 L657.9,434.9 L656.0,432.6 L654.0,430.3 L652.1,427.9 L650.2,425.5 L648.3,423.2 L646.3,420.8 L644.4,418.4 L642.5,416.0 L640.6,413.5 L638.7,411.2 L636.7,408.9 L634.8,406.5 L632.9,404.2 L631.0,401.8 L629.1,399.5 L627.1,397.1 L625.2,394.7 L623.3,392.3Z" fill="#4aac34" fill-opacity="0.3" stroke="none"/>
<path d="M623.3,375.9 L625.2,377.7 L627.1,379.5 L629.1,381.3 L631.0,383.1 L632.9,384.9 L634.8,386.7 L636.8,388.6 L638.7,390.4 L640.6,392.3 L642.5,394.0 L644.4,395.7 L646.4,397.4 L648.3,399.1 L650.2,400.8 L652.1,402.5 L654.1,404.3 L656.0,406.0 L657.9,407.8 L659.8,409.6 L661.7,411.3 L663.7,413.1 L665.6,414.9 L667.5,416.6 L669.4,418.4 L671.4,420.2 L673.3,422.0 L675.2,423.8 L677.1,425.6 L679.0,427.4 L681.0,429.2 L682.9,431.0 L684.8,432.8 L686.7,434.6 L688.6,436.4 L690.6,438.3 L692.5,440.1 L694.4,441.9 L696.3,443.7 L698.3,445.5 L700.2,447.3 L702.1,449.1 L704.0,450.9 L705.9,452.7 L707.9,454.5 L709.8,456.3 L711.7,458.1 L713.6,459.9 L715.6,461.7 L717.5,463.5 L719.4,465.2 L721.3,467.0 L723.2,468.8 L725.2,470.5 L727.1,472.3 L729.0,474.1 L730.9,475.8 L732.9,477.5 L734.8,479.3 L736.7,481.0 L738.6,482.7 L740.5,484.4 L742.5,486.1 L744.4,487.8 L746.3,489.5 L748.2,491.2 L750.2,492.8 L752.1,494.5 L754.0,496.1 L755.9,497.8 L757.8,499.4 L759.8,501.0 L761.7,502.6 L763.6,504.2 L765.5,505.8 L767.5,507.3 L769.4,508.9 L771.3,510.4 L773.2,512.0 L775.1,513.5 L777.1,515.0 L779.0,516.4 L780.9,517.9 L782.8,519.4 L784.7,520.8 L786.7,522.2 L788.6,523.6 L790.5,525.0 L792.4,526.3 L794.4,527.7 L796.3,529.0 L798.2,530.3 L800.1,531.6 L802.0,532.8 L804.0,534.1 L805.9,535.3 L807.8,536.5 L809.7,537.7 L811.7,538.8 L813.6,540.0 L815.5,541.1 L817.4,542.1 L819.3,543.2 L821.3,544.2 L823.2,545.2 L825.1,546.1 L827.0,547.0 L829.0,547.9 L830.9,548.7 L832.8,549.5 L834.7,550.2 L836.6,551.0 L838.6,551.6 L840.5,552.2 L842.4,552.8 L844.3,553.3 L846.3,553.8 L848.2,554.2 L850.1,554.6 L852.0,554.9 L853.9,555.2 L855.9,555.5 L857.8,555.7 L859.7,555.8 L861.6,555.9 L863.6,555.9 L865.5,555.9 L867.4,555.8 L869.3,555.7 L871.2,555.5 L873.2,555.3 L875.1,555.1 L877.0,554.8 L878.9,554.4 L880.8,554.1 L882.8,553.7 L884.7,553.2 L886.6,552.7 L888.5,552.2 L890.5,551.7 L892.4,551.1 L894.3,550.5 L896.2,549.9 L898.1,549.2 L900.1,548.5 L902.0,547.7 L903.9,547.0 L905.8,546.2 L907.8,545.2 L909.7,544.3 L911.6,543.3 L913.5,542.3 L915.4,541.3 L917.4,540.2 L919.3,539.1 L921.2,537.8 L923.1,536.5 L925.1,535.2 L927.0,533.9 L928.9,532.5 L928.9,548.5 L927.0,549.1 L925.1,549.8 L923.1,550.4 L921.2,551.0 L919.3,551.5 L917.4,552.1 L915.4,552.9 L913.5,553.6 L911.6,554.3 L909.7,555.0 L907.8,555.7 L905.8,556.3 L903.9,557.0 L902.0,557.7 L900.1,558.4 L898.1,559.0 L896.2,559.6 L894.3,560.2 L892.4,560.8 L890.5,561.3 L888.5,561.8 L886.6,562.3 L884.7,562.7 L882.8,563.1 L880.8,563.5 L878.9,563.8 L877.0,564.1 L875.1,564.3 L873.2,564.5 L871.2,564.7 L869.3,564.8 L867.4,564.8 L865.5,564.8 L863.6,564.8 L861.6,564.7 L859.7,564.6 L857.8,564.4 L855.9,564.2 L853.9,564.0 L852.0,563.7 L850.1,563.3 L848.2,562.9 L846.3,562.4 L844.3,562.0 L842.4,561.4 L840.5,560.8 L838.6,560.2 L836.6,559.5 L834.7,558.8 L832.8,558.0 L830.9,557.2 L829.0,556.3 L827.0,555.5 L825.1,554.5 L823.2,553.6 L821.3,552.6 L819.3,551.5 L817.4,550.5 L815.5,549.4 L813.6,548.3 L811.7,547.1 L809.7,545.9 L807.8,544.7 L805.9,543.5 L804.0,542.3 L802.0,541.0 L800.1,539.7 L798.2,538.4 L796.3,537.1 L794.4,535.8 L792.4,534.4 L790.5,533.0 L788.6,531.6 L786.7,530.2 L784.7,528.8 L782.8,527.4 L780.9,526.0 L779.0,524.5 L777.1,523.0 L775.1,521.6 L773.2,520.1 L771.3,518.6 L769.4,517.0 L767.5,515.5 L765.5,514.0 L763.6,512.4 L761.7,510.8 L759.8,509.2 L757.8,507.7 L755.9,506.0 L754.0,504.4 L752.1,502.8 L750.2,501.2 L748.2,499.5 L746.3,497.9 L744.4,496.2 L742.5,494.5 L740.5,492.8 L738.6,491.2 L736.7,489.5 L734.8,487.7 L732.9,486.0 L730.9,484.3 L729.0,482.6 L727.1,480.8 L725.2,479.1 L723.2,477.4 L721.3,475.6 L719.4,473.9 L717.5,472.1 L715.6,470.3 L713.6,468.6 L711.7,466.8 L709.8,465.0 L707.9,463.2 L705.9,461.5 L704.0,459.7 L702.1,457.9 L700.2,456.1 L698.3,454.3 L696.3,452.5 L694.4,450.8 L692.5,449.0 L690.6,447.2 L688.6,445.4 L686.7,443.6 L684.8,441.8 L682.9,440.0 L681.0,438.3 L679.0,436.5 L677.1,434.7 L675.2,432.9 L673.3,431.2 L671.4,429.4 L669.4,427.6 L667.5,425.9 L665.6,424.1 L663.7,422.4 L661.7,420.6 L659.8,418.9 L657.9,417.2 L656.0,415.4 L654.1,413.7 L652.1,412.0 L650.2,410.3 L648.3,408.6 L646.4,406.9 L644.4,405.2 L642.5,403.5 L640.6,401.9 L638.7,400.3 L636.8,398.8 L634.8,397.4 L632.9,395.9 L631.0,394.5 L629.1,393.1 L627.1,391.6 L625.2,390.2 L623.3,388.8Z" fill="#ee6b46" fill-opacity="0.3" stroke="none"/>
<path d="M623.3,386.4 L625.2,388.9 L627.1,391.5 L629.1,394.0 L631.0,396.5 L632.9,399.0 L634.8,401.5 L636.7,404.0 L638.7,406.5 L640.6,408.9 L642.5,411.4 L644.4,413.8 L646.3,416.2 L648.3,418.6 L650.2,421.0 L652.1,423.4 L654.0,425.7 L656.0,428.1 L657.9,430.4 L659.8,432.7 L661.7,435.0 L663.6,437.3 L665.6,439.5 L667.5,441.7 L669.4,443.9 L671.3,446.1 L673.2,448.3 L675.2,450.4 L677.1,452.6 L679.0,454.7 L680.9,456.7 L682.8,458.8 L684.8,460.8 L686.7,462.8 L688.6,464.8 L690.5,466.7 L692.4,468.7 L694.4,470.6 L696.3,472.4 L698.2,474.3 L700.1,476.1 L702.1,477.9 L704.0,479.6 L705.9,481.4 L707.8,483.1 L709.7,484.7 L711.7,486.4 L713.6,488.0 L715.5,489.5 L717.4,491.1 L719.3,492.6 L721.3,494.0 L723.2,495.5 L725.1,496.9 L727.0,498.3 L728.9,499.6 L730.9,500.9 L732.8,502.1 L734.7,503.4 L736.6,504.5 L738.5,505.7 L740.5,506.8 L742.4,507.8 L744.3,508.9 L746.2,509.9 L748.1,510.8 L750.1,511.7 L752.0,512.6 L753.9,513.4 L755.8,514.2 L757.8,514.9 L759.7,515.6 L761.6,516.2 L763.5,516.8 L765.4,517.4 L767.4,517.9 L769.3,518.4 L771.2,518.8 L773.1,519.2 L775.0,519.5 L777.0,519.8 L778.9,520.0 L780.8,520.2 L782.7,520.3 L784.6,520.4 L786.6,520.4 L788.5,520.4 L790.4,520.3 L792.3,520.2 L794.2,520.0 L796.2,519.8 L798.1,519.5 L800.0,519.2 L801.9,518.9 L803.9,518.5 L805.8,518.1 L807.7,517.6 L809.6,517.1 L811.5,516.6 L813.5,516.1 L815.4,515.5 L817.3,514.9 L819.2,514.2 L821.1,513.5 L823.1,512.8 L825.0,512.1 L826.9,511.4 L828.8,510.6 L830.7,509.8 L832.7,509.0 L834.6,508.1 L836.5,507.3 L838.4,506.4 L840.3,505.5 L842.3,504.7 L844.2,503.8 L846.1,502.8 L848.0,501.9 L849.9,501.0 L851.9,500.0 L853.8,499.1 L855.7,498.2 L857.6,497.2 L859.6,496.2 L861.5,495.3 L863.4,494.3 L865.3,493.3 L867.2,492.4 L869.2,491.4 L871.1,490.4 L873.0,489.4 L874.9,488.4 L876.8,487.4 L878.8,486.4 L880.7,485.4 L882.6,484.4 L884.5,483.3 L886.4,482.3 L888.4,481.3 L890.3,480.2 L892.2,479.2 L894.1,478.1 L896.0,477.0 L898.0,476.0 L899.9,474.9 L901.8,473.8 L903.7,472.7 L905.7,471.6 L907.6,470.5 L909.5,469.4 L911.4,468.2 L913.3,467.1 L915.3,466.0 L917.2,464.8 L919.1,463.7 L921.0,462.5 L922.9,461.3 L924.9,460.1 L926.8,458.9 L928.7,457.7" fill="none" stroke="#4aac34" stroke-width="3.05" stroke-opacity="1.0" stroke-linecap="butt" stroke-linejoin="round"/>
<circle cx="785.5" cy="521.4" r="13" fill="#4aac34"/>
<path d="M623.3,382.4 L625.2,384.0 L627.1,385.6 L629.1,387.2 L631.0,388.8 L632.9,390.4 L634.8,392.1 L636.8,393.7 L638.7,395.4 L640.6,397.1 L642.5,398.7 L644.4,400.4 L646.4,402.1 L648.3,403.8 L650.2,405.5 L652.1,407.3 L654.1,409.0 L656.0,410.7 L657.9,412.5 L659.8,414.2 L661.7,416.0 L663.7,417.7 L665.6,419.5 L667.5,421.3 L669.4,423.0 L671.4,424.8 L673.3,426.6 L675.2,428.4 L677.1,430.2 L679.0,431.9 L681.0,433.7 L682.9,435.5 L684.8,437.3 L686.7,439.1 L688.6,440.9 L690.6,442.7 L692.5,444.5 L694.4,446.3 L696.3,448.1 L698.3,449.9 L700.2,451.7 L702.1,453.5 L704.0,455.3 L705.9,457.1 L707.9,458.9 L709.8,460.7 L711.7,462.4 L713.6,464.2 L715.6,466.0 L717.5,467.8 L719.4,469.5 L721.3,471.3 L723.2,473.1 L725.2,474.8 L727.1,476.6 L729.0,478.3 L730.9,480.1 L732.9,481.8 L734.8,483.5 L736.7,485.2 L738.6,486.9 L740.5,488.6 L742.5,490.3 L744.4,492.0 L746.3,493.7 L748.2,495.3 L750.2,497.0 L752.1,498.7 L754.0,500.3 L755.9,501.9 L757.8,503.5 L759.8,505.1 L761.7,506.7 L763.6,508.3 L765.5,509.9 L767.5,511.4 L769.4,513.0 L771.3,514.5 L773.2,516.0 L775.1,517.5 L777.1,519.0 L779.0,520.5 L780.9,521.9 L782.8,523.4 L784.7,524.8 L786.7,526.2 L788.6,527.6 L790.5,529.0 L792.4,530.4 L794.4,531.7 L796.3,533.0 L798.2,534.3 L800.1,535.6 L802.0,536.9 L804.0,538.2 L805.9,539.4 L807.8,540.6 L809.7,541.8 L811.7,543.0 L813.6,544.1 L815.5,545.2 L817.4,546.3 L819.3,547.4 L821.3,548.4 L823.2,549.4 L825.1,550.3 L827.0,551.2 L829.0,552.1 L830.9,553.0 L832.8,553.8 L834.7,554.5 L836.6,555.2 L838.6,555.9 L840.5,556.5 L842.4,557.1 L844.3,557.6 L846.3,558.1 L848.2,558.6 L850.1,559.0 L852.0,559.3 L853.9,559.6 L855.9,559.8 L857.8,560.1 L859.7,560.2 L861.6,560.3 L863.6,560.4 L865.5,560.4 L867.4,560.3 L869.3,560.2 L871.2,560.1 L873.2,559.9 L875.1,559.7 L877.0,559.4 L878.9,559.1 L880.8,558.8 L882.8,558.4 L884.7,558.0 L886.6,557.5 L888.5,557.0 L890.5,556.5 L892.4,556.0 L894.3,555.4 L896.2,554.7 L898.1,554.1 L900.1,553.4 L902.0,552.7 L903.9,552.0 L905.8,551.2 L907.8,550.4 L909.7,549.6 L911.6,548.8 L913.5,548.0 L915.4,547.1 L917.4,546.2 L919.3,545.3 L921.2,544.4 L923.1,543.4 L925.1,542.5 L927.0,541.5 L928.9,540.5" fill="none" stroke="#ee6b46" stroke-width="3.05" stroke-opacity="1.0" stroke-linecap="butt" stroke-linejoin="round"/>
<circle cx="866.5" cy="419.2" r="13" fill="#4682b4"/>
<circle cx="860.3" cy="561.3" r="12.9" fill="#ee6b46"/>
<text x="822.50" y="385.30" font-size="32.9" fill="#4682b4">White</text>
<text x="633.20" y="553.50" font-size="32.9" fill="#4aac34">Hispanic</text>
<text x="758.10" y="586.50" font-size="32.9" fill="#ee6b46">Black</text>
<rect x="608.10" y="50.70" width="334.45" height="558.10" fill="none" stroke="#2b2b2b" stroke-width="3.40"/>
<rect x="606.40" y="49.00" width="4.70" height="562.70" fill="#0c0c0c"/>
<rect x="606.40" y="608.20" width="337.85" height="3.50" fill="#0c0c0c"/>
<rect x="606.40" y="607.00" width="337.85" height="1.6" fill="#1d1d1d"/>
<rect x="609.10" y="73.25" width="17.10" height="2.5" fill="#222"/>
<text x="601.40" y="85.84" font-size="31.95" fill="#3d3d3d" text-anchor="end">0.6</text>
<rect x="609.10" y="219.08" width="17.10" height="2.5" fill="#222"/>
<text x="601.40" y="231.67" font-size="31.95" fill="#3d3d3d" text-anchor="end">0.5</text>
<rect x="609.10" y="364.91" width="17.10" height="2.5" fill="#222"/>
<text x="601.40" y="377.50" font-size="31.95" fill="#3d3d3d" text-anchor="end">0.4</text>
<rect x="609.10" y="510.74" width="17.10" height="2.5" fill="#222"/>
<text x="601.40" y="523.33" font-size="31.95" fill="#3d3d3d" text-anchor="end">0.3</text>
<rect x="636.26" y="591.50" width="2.4" height="17" fill="#222"/>
<text transform="translate(648.70,617.10) rotate(-90)" font-size="31.95" fill="#3d3d3d" text-anchor="end">7000</text>
<rect x="669.50" y="591.50" width="2.4" height="17" fill="#222"/>
<text transform="translate(681.94,617.10) rotate(-90)" font-size="31.95" fill="#3d3d3d" text-anchor="end">10000</text>
<rect x="734.10" y="591.50" width="2.4" height="17" fill="#222"/>
<text transform="translate(746.54,617.10) rotate(-90)" font-size="31.95" fill="#3d3d3d" text-anchor="end">20000</text>
<rect x="771.89" y="591.50" width="2.4" height="17" fill="#222"/>
<text transform="translate(784.33,617.10) rotate(-90)" font-size="31.95" fill="#3d3d3d" text-anchor="end">30000</text>
<rect x="819.50" y="591.50" width="2.4" height="17" fill="#222"/>
<text transform="translate(831.94,617.10) rotate(-90)" font-size="31.95" fill="#3d3d3d" text-anchor="end">50000</text>
<rect x="850.86" y="591.50" width="2.4" height="17" fill="#222"/>
<text transform="translate(863.30,617.10) rotate(-90)" font-size="31.95" fill="#3d3d3d" text-anchor="end">70000</text>
<rect x="884.10" y="591.50" width="2.4" height="17" fill="#222"/>
<text transform="translate(896.54,617.10) rotate(-90)" font-size="31.95" fill="#3d3d3d" text-anchor="end">100000</text>
<text transform="translate(543.30,329.75) rotate(-90)" font-size="31.95" fill="#000" text-anchor="middle">Stress</text>
<text x="614.30" y="753.10" font-size="31.95" fill="#000">Household Income ($)</text>
<text x="499.80" y="34.00" font-size="43" fill="#000">(b)</text>
</g>
<g id="panel-c">
<path d="M1127.1,249.1 L1129.0,251.0 L1130.9,252.9 L1132.9,254.7 L1134.8,256.6 L1136.7,258.4 L1138.6,260.3 L1140.6,262.1 L1142.5,263.9 L1144.4,265.8 L1146.3,267.6 L1148.3,269.4 L1150.2,271.2 L1152.1,273.0 L1154.0,274.8 L1156.0,276.6 L1157.9,278.3 L1159.8,280.1 L1161.7,281.9 L1163.7,283.7 L1165.6,285.4 L1167.5,287.1 L1169.4,288.8 L1171.4,290.4 L1173.3,292.1 L1175.2,293.8 L1177.1,295.5 L1179.1,297.1 L1181.0,298.8 L1182.9,300.4 L1184.8,302.1 L1186.8,303.7 L1188.7,305.4 L1190.6,307.0 L1192.5,308.7 L1194.5,310.3 L1196.4,312.0 L1198.3,313.6 L1200.2,315.3 L1202.2,316.9 L1204.1,318.5 L1206.0,320.2 L1207.9,321.8 L1209.9,323.4 L1211.8,325.1 L1213.7,326.7 L1215.6,328.3 L1217.6,330.0 L1219.5,331.6 L1221.4,333.2 L1223.3,334.9 L1225.3,336.5 L1227.2,338.1 L1229.1,339.8 L1231.0,341.4 L1232.9,343.0 L1234.9,344.7 L1236.8,346.3 L1238.7,347.9 L1240.6,349.5 L1242.6,351.2 L1244.5,352.8 L1246.4,354.4 L1248.3,356.0 L1250.3,357.6 L1252.2,359.1 L1254.1,360.7 L1256.0,362.3 L1258.0,363.8 L1259.9,365.4 L1261.8,366.9 L1263.7,368.4 L1265.7,369.9 L1267.6,371.4 L1269.5,372.9 L1271.4,374.4 L1273.4,375.8 L1275.3,377.2 L1277.2,378.7 L1279.1,380.1 L1281.1,381.5 L1283.0,382.8 L1284.9,384.2 L1286.8,385.5 L1288.8,386.9 L1290.7,388.2 L1292.6,389.4 L1294.5,390.7 L1296.5,391.9 L1298.4,393.1 L1300.3,394.3 L1302.2,395.5 L1304.2,396.6 L1306.1,397.7 L1308.0,398.8 L1309.9,399.9 L1311.9,400.9 L1313.8,402.0 L1315.7,402.9 L1317.6,403.9 L1319.6,404.8 L1321.5,405.7 L1323.4,406.6 L1325.3,407.4 L1327.3,408.2 L1329.2,409.0 L1331.1,409.7 L1333.0,410.4 L1334.9,411.1 L1336.9,411.7 L1338.8,412.3 L1340.7,412.9 L1342.6,413.4 L1344.6,413.9 L1346.5,414.4 L1348.4,414.8 L1350.3,415.2 L1352.3,415.4 L1354.2,415.7 L1356.1,415.9 L1358.0,416.1 L1360.0,416.2 L1361.9,416.3 L1363.8,416.3 L1365.7,416.3 L1367.7,416.3 L1369.6,416.2 L1371.5,416.1 L1373.4,415.9 L1375.4,415.6 L1377.3,415.3 L1379.2,415.0 L1381.1,414.6 L1383.1,414.2 L1385.0,413.7 L1386.9,413.2 L1388.8,412.6 L1390.8,412.0 L1392.7,411.4 L1394.6,410.7 L1396.5,410.0 L1398.5,409.3 L1400.4,408.5 L1402.3,407.7 L1404.2,406.9 L1406.2,406.0 L1408.1,405.2 L1410.0,404.3 L1411.9,403.5 L1413.9,402.6 L1415.8,401.8 L1417.7,400.9 L1419.6,400.1 L1421.6,399.2 L1423.5,398.4 L1425.4,397.6 L1427.3,396.9 L1429.3,396.1 L1431.2,395.4 L1433.1,394.7 L1433.1,405.1 L1431.2,405.6 L1429.3,406.2 L1427.3,406.7 L1425.4,407.3 L1423.5,407.9 L1421.6,408.5 L1419.6,409.2 L1417.7,409.8 L1415.8,410.5 L1413.9,411.2 L1411.9,411.8 L1410.0,412.5 L1408.1,413.2 L1406.2,413.8 L1404.2,414.5 L1402.3,415.1 L1400.4,415.8 L1398.5,416.4 L1396.5,417.1 L1394.6,417.7 L1392.7,418.3 L1390.8,418.9 L1388.8,419.4 L1386.9,419.9 L1385.0,420.4 L1383.1,420.8 L1381.1,421.2 L1379.2,421.5 L1377.3,421.8 L1375.4,422.0 L1373.4,422.2 L1371.5,422.3 L1369.6,422.4 L1367.7,422.5 L1365.7,422.4 L1363.8,422.4 L1361.9,422.3 L1360.0,422.1 L1358.0,421.9 L1356.1,421.7 L1354.2,421.4 L1352.3,421.1 L1350.3,420.8 L1348.4,420.4 L1346.5,420.0 L1344.6,419.5 L1342.6,419.1 L1340.7,418.5 L1338.8,418.0 L1336.9,417.4 L1334.9,416.8 L1333.0,416.1 L1331.1,415.4 L1329.2,414.7 L1327.3,413.9 L1325.3,413.1 L1323.4,412.3 L1321.5,411.4 L1319.6,410.5 L1317.6,409.6 L1315.7,408.7 L1313.8,407.7 L1311.9,406.7 L1309.9,405.7 L1308.0,404.6 L1306.1,403.5 L1304.2,402.4 L1302.2,401.3 L1300.3,400.1 L1298.4,398.9 L1296.5,397.7 L1294.5,396.5 L1292.6,395.3 L1290.7,394.0 L1288.8,392.7 L1286.8,391.4 L1284.9,390.1 L1283.0,388.7 L1281.1,387.3 L1279.1,386.0 L1277.2,384.6 L1275.3,383.1 L1273.4,381.7 L1271.4,380.3 L1269.5,378.8 L1267.6,377.3 L1265.7,375.9 L1263.7,374.4 L1261.8,372.8 L1259.9,371.3 L1258.0,369.8 L1256.0,368.3 L1254.1,366.7 L1252.2,365.1 L1250.3,363.6 L1248.3,362.0 L1246.4,360.4 L1244.5,358.9 L1242.6,357.3 L1240.6,355.7 L1238.7,354.1 L1236.8,352.5 L1234.9,350.9 L1232.9,349.3 L1231.0,347.7 L1229.1,346.1 L1227.2,344.6 L1225.3,343.0 L1223.3,341.4 L1221.4,339.8 L1219.5,338.2 L1217.6,336.6 L1215.6,335.0 L1213.7,333.4 L1211.8,331.8 L1209.9,330.2 L1207.9,328.6 L1206.0,327.0 L1204.1,325.4 L1202.2,323.8 L1200.2,322.2 L1198.3,320.6 L1196.4,319.0 L1194.5,317.4 L1192.5,315.8 L1190.6,314.2 L1188.7,312.6 L1186.8,310.9 L1184.8,309.3 L1182.9,307.7 L1181.0,306.1 L1179.1,304.5 L1177.1,302.8 L1175.2,301.2 L1173.3,299.6 L1171.4,297.9 L1169.4,296.3 L1167.5,294.6 L1165.6,293.0 L1163.7,291.4 L1161.7,289.8 L1159.8,288.2 L1157.9,286.6 L1156.0,285.0 L1154.0,283.4 L1152.1,281.7 L1150.2,280.1 L1148.3,278.5 L1146.3,276.8 L1144.4,275.2 L1142.5,273.5 L1140.6,271.9 L1138.6,270.2 L1136.7,268.6 L1134.8,266.9 L1132.9,265.2 L1130.9,263.5 L1129.0,261.8 L1127.1,260.1Z" fill="#c0873d" fill-opacity="0.3" stroke="none"/>
<path d="M1127.1,256.9 L1129.0,258.9 L1130.9,260.8 L1132.9,262.7 L1134.8,264.6 L1136.7,266.5 L1138.6,268.4 L1140.6,270.2 L1142.5,272.1 L1144.4,273.9 L1146.3,275.7 L1148.3,277.4 L1150.2,279.2 L1152.1,280.9 L1154.0,282.7 L1156.0,284.4 L1157.9,286.1 L1159.8,287.8 L1161.7,289.5 L1163.7,291.2 L1165.6,292.8 L1167.5,294.4 L1169.4,296.0 L1171.4,297.6 L1173.3,299.2 L1175.2,300.8 L1177.1,302.3 L1179.1,303.9 L1181.0,305.5 L1182.9,307.1 L1184.8,308.7 L1186.8,310.3 L1188.7,311.9 L1190.6,313.5 L1192.5,315.1 L1194.5,316.7 L1196.4,318.3 L1198.3,320.0 L1200.2,321.6 L1202.2,323.3 L1204.1,325.0 L1206.0,326.6 L1207.9,328.3 L1209.9,330.0 L1211.8,331.7 L1213.7,333.4 L1215.6,335.1 L1217.6,336.8 L1219.5,338.5 L1221.4,340.2 L1223.3,341.9 L1225.3,343.6 L1227.2,345.2 L1229.1,346.9 L1231.0,348.5 L1232.9,350.2 L1234.9,351.8 L1236.8,353.4 L1238.7,355.0 L1240.6,356.6 L1242.6,358.2 L1244.5,359.8 L1246.4,361.4 L1248.3,362.9 L1250.3,364.5 L1252.2,366.0 L1254.1,367.5 L1256.0,369.0 L1258.0,370.5 L1259.9,372.0 L1261.8,373.5 L1263.7,375.0 L1265.7,376.4 L1267.6,377.9 L1269.5,379.3 L1271.4,380.8 L1273.4,382.2 L1275.3,383.6 L1277.2,385.0 L1279.1,386.4 L1281.1,387.8 L1283.0,389.2 L1284.9,390.6 L1286.8,391.9 L1288.8,393.3 L1290.7,394.6 L1292.6,396.0 L1294.5,397.3 L1296.5,398.6 L1298.4,400.0 L1300.3,401.3 L1302.2,402.6 L1304.2,403.9 L1306.1,405.1 L1308.0,406.4 L1309.9,407.6 L1311.9,408.8 L1313.8,410.0 L1315.7,411.1 L1317.6,412.2 L1319.6,413.3 L1321.5,414.3 L1323.4,415.3 L1325.3,416.2 L1327.3,417.1 L1329.2,417.9 L1331.1,418.7 L1333.0,419.4 L1334.9,420.1 L1336.9,420.7 L1338.8,421.2 L1340.7,421.8 L1342.6,422.2 L1344.6,422.6 L1346.5,423.0 L1348.4,423.3 L1350.3,423.5 L1352.3,423.7 L1354.2,423.8 L1356.1,423.8 L1358.0,423.8 L1360.0,423.7 L1361.9,423.6 L1363.8,423.4 L1365.7,423.1 L1367.7,422.8 L1369.6,422.5 L1371.5,422.1 L1373.4,421.6 L1375.4,421.0 L1377.3,420.5 L1379.2,419.8 L1381.1,419.1 L1383.1,418.3 L1385.0,417.5 L1386.9,416.6 L1388.8,415.7 L1390.8,414.8 L1392.7,413.8 L1394.6,412.7 L1396.5,411.7 L1398.5,410.6 L1400.4,409.4 L1402.3,408.2 L1404.2,406.9 L1406.2,405.7 L1408.1,404.4 L1410.0,403.1 L1411.9,401.8 L1413.9,400.5 L1415.8,399.2 L1417.7,398.0 L1419.6,396.7 L1421.6,395.4 L1423.5,394.2 L1425.4,392.9 L1427.3,391.7 L1429.3,390.5 L1431.2,389.4 L1433.1,388.3 L1433.1,399.9 L1431.2,400.8 L1429.3,401.7 L1427.3,402.6 L1425.4,403.6 L1423.5,404.6 L1421.6,405.6 L1419.6,406.7 L1417.7,407.7 L1415.8,408.8 L1413.9,409.8 L1411.9,410.9 L1410.0,411.9 L1408.1,413.0 L1406.2,414.0 L1404.2,415.1 L1402.3,416.1 L1400.4,417.1 L1398.5,418.1 L1396.5,419.1 L1394.6,420.1 L1392.7,421.1 L1390.8,422.0 L1388.8,422.9 L1386.9,423.7 L1385.0,424.5 L1383.1,425.3 L1381.1,425.9 L1379.2,426.6 L1377.3,427.2 L1375.4,427.7 L1373.4,428.1 L1371.5,428.5 L1369.6,428.9 L1367.7,429.1 L1365.7,429.4 L1363.8,429.5 L1361.9,429.6 L1360.0,429.7 L1358.0,429.7 L1356.1,429.6 L1354.2,429.5 L1352.3,429.4 L1350.3,429.1 L1348.4,428.9 L1346.5,428.6 L1344.6,428.3 L1342.6,427.9 L1340.7,427.4 L1338.8,426.9 L1336.9,426.4 L1334.9,425.8 L1333.0,425.1 L1331.1,424.4 L1329.2,423.7 L1327.3,422.9 L1325.3,422.0 L1323.4,421.1 L1321.5,420.1 L1319.6,419.1 L1317.6,418.1 L1315.7,417.0 L1313.8,415.9 L1311.9,414.7 L1309.9,413.5 L1308.0,412.3 L1306.1,411.1 L1304.2,409.8 L1302.2,408.6 L1300.3,407.3 L1298.4,406.0 L1296.5,404.7 L1294.5,403.4 L1292.6,402.0 L1290.7,400.7 L1288.8,399.4 L1286.8,398.0 L1284.9,396.7 L1283.0,395.3 L1281.1,394.0 L1279.1,392.6 L1277.2,391.2 L1275.3,389.8 L1273.4,388.4 L1271.4,387.0 L1269.5,385.6 L1267.6,384.1 L1265.7,382.7 L1263.7,381.2 L1261.8,379.8 L1259.9,378.3 L1258.0,376.8 L1256.0,375.4 L1254.1,373.9 L1252.2,372.4 L1250.3,370.9 L1248.3,369.3 L1246.4,367.8 L1244.5,366.3 L1242.6,364.7 L1240.6,363.2 L1238.7,361.6 L1236.8,360.1 L1234.9,358.5 L1232.9,356.9 L1231.0,355.3 L1229.1,353.7 L1227.2,352.1 L1225.3,350.4 L1223.3,348.8 L1221.4,347.2 L1219.5,345.5 L1217.6,343.8 L1215.6,342.2 L1213.7,340.5 L1211.8,338.9 L1209.9,337.2 L1207.9,335.5 L1206.0,333.9 L1204.1,332.2 L1202.2,330.6 L1200.2,329.0 L1198.3,327.3 L1196.4,325.7 L1194.5,324.2 L1192.5,322.6 L1190.6,321.0 L1188.7,319.4 L1186.8,317.9 L1184.8,316.3 L1182.9,314.8 L1181.0,313.2 L1179.1,311.7 L1177.1,310.1 L1175.2,308.6 L1173.3,307.0 L1171.4,305.5 L1169.4,303.9 L1167.5,302.4 L1165.6,300.8 L1163.7,299.3 L1161.7,297.8 L1159.8,296.4 L1157.9,294.9 L1156.0,293.3 L1154.0,291.8 L1152.1,290.3 L1150.2,288.7 L1148.3,287.2 L1146.3,285.6 L1144.4,284.0 L1142.5,282.4 L1140.6,280.8 L1138.6,279.2 L1136.7,277.5 L1134.8,275.8 L1132.9,274.1 L1130.9,272.4 L1129.0,270.6 L1127.1,268.9Z" fill="#7b2d8e" fill-opacity="0.3" stroke="none"/>
<path d="M1127.1,269.4 L1129.0,271.1 L1130.9,272.8 L1132.9,274.5 L1134.8,276.2 L1136.7,277.8 L1138.6,279.5 L1140.6,281.1 L1142.5,282.8 L1144.4,284.4 L1146.3,286.0 L1148.3,287.6 L1150.2,289.2 L1152.1,290.8 L1154.0,292.3 L1156.0,293.9 L1157.9,295.5 L1159.8,297.1 L1161.7,298.6 L1163.7,300.2 L1165.6,301.7 L1167.5,303.2 L1169.4,304.7 L1171.4,306.2 L1173.3,307.7 L1175.2,309.2 L1177.1,310.8 L1179.1,312.3 L1181.0,313.8 L1182.9,315.3 L1184.8,316.8 L1186.8,318.3 L1188.7,319.9 L1190.6,321.4 L1192.5,322.9 L1194.5,324.5 L1196.4,326.0 L1198.3,327.6 L1200.2,329.1 L1202.2,330.7 L1204.1,332.3 L1206.0,333.9 L1207.9,335.5 L1209.9,337.1 L1211.8,338.7 L1213.7,340.3 L1215.6,342.0 L1217.6,343.6 L1219.5,345.2 L1221.4,346.8 L1223.3,348.5 L1225.3,350.1 L1227.2,351.7 L1229.1,353.3 L1231.0,355.0 L1232.9,356.6 L1234.9,358.2 L1236.8,359.8 L1238.7,361.5 L1240.6,363.1 L1242.6,364.7 L1244.5,366.3 L1246.4,367.9 L1248.3,369.6 L1250.3,371.2 L1252.2,372.7 L1254.1,374.3 L1256.0,375.9 L1258.0,377.5 L1259.9,379.0 L1261.8,380.6 L1263.7,382.1 L1265.7,383.7 L1267.6,385.2 L1269.5,386.8 L1271.4,388.3 L1273.4,389.9 L1275.3,391.4 L1277.2,392.9 L1279.1,394.4 L1281.1,395.9 L1283.0,397.5 L1284.9,399.0 L1286.8,400.4 L1288.8,401.9 L1290.7,403.4 L1292.6,404.9 L1294.5,406.3 L1296.5,407.8 L1298.4,409.2 L1300.3,410.7 L1302.2,412.1 L1304.2,413.5 L1306.1,414.9 L1308.0,416.3 L1309.9,417.7 L1311.9,419.0 L1313.8,420.4 L1315.7,421.6 L1317.6,422.9 L1319.6,424.1 L1321.5,425.3 L1323.4,426.4 L1325.3,427.5 L1327.3,428.6 L1329.2,429.6 L1331.1,430.6 L1333.0,431.5 L1334.9,432.4 L1336.9,433.2 L1338.8,434.0 L1340.7,434.8 L1342.6,435.5 L1344.6,436.2 L1346.5,436.8 L1348.4,437.3 L1350.3,437.9 L1352.3,438.3 L1354.2,438.7 L1356.1,439.0 L1358.0,439.3 L1360.0,439.6 L1361.9,439.8 L1363.8,439.9 L1365.7,440.0 L1367.7,440.1 L1369.6,440.1 L1371.5,440.0 L1373.4,440.0 L1375.4,439.8 L1377.3,439.6 L1379.2,439.4 L1381.1,439.1 L1383.1,438.7 L1385.0,438.4 L1386.9,437.9 L1388.8,437.4 L1390.8,436.9 L1392.7,436.4 L1394.6,435.8 L1396.5,435.2 L1398.5,434.5 L1400.4,433.8 L1402.3,433.0 L1404.2,432.2 L1406.2,431.4 L1408.1,430.6 L1410.0,429.7 L1411.9,428.8 L1413.9,428.0 L1415.8,427.1 L1417.7,426.2 L1419.6,425.3 L1421.6,424.4 L1423.5,423.5 L1425.4,422.5 L1427.3,421.6 L1429.3,420.7 L1431.2,419.9 L1433.1,419.0 L1433.1,428.6 L1431.2,429.3 L1429.3,430.0 L1427.3,430.8 L1425.4,431.5 L1423.5,432.2 L1421.6,433.0 L1419.6,433.7 L1417.7,434.5 L1415.8,435.2 L1413.9,435.9 L1411.9,436.7 L1410.0,437.4 L1408.1,438.1 L1406.2,438.7 L1404.2,439.4 L1402.3,440.0 L1400.4,440.6 L1398.5,441.3 L1396.5,441.9 L1394.6,442.5 L1392.7,443.1 L1390.8,443.6 L1388.8,444.1 L1386.9,444.5 L1385.0,444.9 L1383.1,445.3 L1381.1,445.6 L1379.2,445.8 L1377.3,446.1 L1375.4,446.2 L1373.4,446.3 L1371.5,446.4 L1369.6,446.4 L1367.7,446.4 L1365.7,446.3 L1363.8,446.1 L1361.9,446.0 L1360.0,445.7 L1358.0,445.5 L1356.1,445.1 L1354.2,444.7 L1352.3,444.3 L1350.3,443.9 L1348.4,443.4 L1346.5,442.9 L1344.6,442.3 L1342.6,441.7 L1340.7,441.0 L1338.8,440.3 L1336.9,439.6 L1334.9,438.8 L1333.0,437.9 L1331.1,437.0 L1329.2,436.1 L1327.3,435.2 L1325.3,434.1 L1323.4,433.1 L1321.5,432.0 L1319.6,430.9 L1317.6,429.7 L1315.7,428.5 L1313.8,427.2 L1311.9,426.0 L1309.9,424.7 L1308.0,423.3 L1306.1,422.0 L1304.2,420.6 L1302.2,419.3 L1300.3,417.9 L1298.4,416.5 L1296.5,415.1 L1294.5,413.7 L1292.6,412.3 L1290.7,410.8 L1288.8,409.4 L1286.8,408.0 L1284.9,406.5 L1283.0,405.1 L1281.1,403.6 L1279.1,402.1 L1277.2,400.7 L1275.3,399.2 L1273.4,397.7 L1271.4,396.2 L1269.5,394.7 L1267.6,393.2 L1265.7,391.7 L1263.7,390.2 L1261.8,388.7 L1259.9,387.2 L1258.0,385.7 L1256.0,384.1 L1254.1,382.6 L1252.2,381.1 L1250.3,379.6 L1248.3,378.0 L1246.4,376.5 L1244.5,375.0 L1242.6,373.5 L1240.6,372.0 L1238.7,370.4 L1236.8,368.9 L1234.9,367.4 L1232.9,365.9 L1231.0,364.3 L1229.1,362.8 L1227.2,361.3 L1225.3,359.8 L1223.3,358.2 L1221.4,356.7 L1219.5,355.2 L1217.6,353.7 L1215.6,352.1 L1213.7,350.6 L1211.8,349.1 L1209.9,347.6 L1207.9,346.1 L1206.0,344.6 L1204.1,343.1 L1202.2,341.6 L1200.2,340.1 L1198.3,338.7 L1196.4,337.2 L1194.5,335.7 L1192.5,334.3 L1190.6,332.9 L1188.7,331.4 L1186.8,330.0 L1184.8,328.6 L1182.9,327.2 L1181.0,325.7 L1179.1,324.3 L1177.1,322.9 L1175.2,321.5 L1173.3,320.1 L1171.4,318.7 L1169.4,317.3 L1167.5,315.9 L1165.6,314.5 L1163.7,313.1 L1161.7,311.7 L1159.8,310.3 L1157.9,309.0 L1156.0,307.6 L1154.0,306.2 L1152.1,304.8 L1150.2,303.4 L1148.3,302.0 L1146.3,300.6 L1144.4,299.1 L1142.5,297.7 L1140.6,296.2 L1138.6,294.8 L1136.7,293.3 L1134.8,291.8 L1132.9,290.4 L1130.9,288.8 L1129.0,287.3 L1127.1,285.8Z" fill="#52a592" fill-opacity="0.3" stroke="none"/>
<circle cx="1358.3" cy="427.2" r="12.4" fill="#7b2d8e"/>
<circle cx="1364.5" cy="420.0" r="12.4" fill="#c0873d"/>
<path d="M1127.1,254.6 L1129.0,256.4 L1130.9,258.2 L1132.9,260.0 L1134.8,261.7 L1136.7,263.5 L1138.6,265.3 L1140.6,267.0 L1142.5,268.7 L1144.4,270.5 L1146.3,272.2 L1148.3,273.9 L1150.2,275.6 L1152.1,277.4 L1154.0,279.1 L1156.0,280.8 L1157.9,282.5 L1159.8,284.1 L1161.7,285.8 L1163.7,287.5 L1165.6,289.2 L1167.5,290.9 L1169.4,292.5 L1171.4,294.2 L1173.3,295.8 L1175.2,297.5 L1177.1,299.1 L1179.1,300.8 L1181.0,302.4 L1182.9,304.1 L1184.8,305.7 L1186.8,307.3 L1188.7,309.0 L1190.6,310.6 L1192.5,312.2 L1194.5,313.9 L1196.4,315.5 L1198.3,317.1 L1200.2,318.7 L1202.2,320.3 L1204.1,322.0 L1206.0,323.6 L1207.9,325.2 L1209.9,326.8 L1211.8,328.4 L1213.7,330.0 L1215.6,331.6 L1217.6,333.3 L1219.5,334.9 L1221.4,336.5 L1223.3,338.1 L1225.3,339.7 L1227.2,341.3 L1229.1,343.0 L1231.0,344.6 L1232.9,346.2 L1234.9,347.8 L1236.8,349.4 L1238.7,351.0 L1240.6,352.6 L1242.6,354.2 L1244.5,355.8 L1246.4,357.4 L1248.3,359.0 L1250.3,360.6 L1252.2,362.1 L1254.1,363.7 L1256.0,365.3 L1258.0,366.8 L1259.9,368.3 L1261.8,369.9 L1263.7,371.4 L1265.7,372.9 L1267.6,374.4 L1269.5,375.9 L1271.4,377.3 L1273.4,378.8 L1275.3,380.2 L1277.2,381.6 L1279.1,383.0 L1281.1,384.4 L1283.0,385.8 L1284.9,387.1 L1286.8,388.5 L1288.8,389.8 L1290.7,391.1 L1292.6,392.3 L1294.5,393.6 L1296.5,394.8 L1298.4,396.0 L1300.3,397.2 L1302.2,398.4 L1304.2,399.5 L1306.1,400.6 L1308.0,401.7 L1309.9,402.8 L1311.9,403.8 L1313.8,404.8 L1315.7,405.8 L1317.6,406.8 L1319.6,407.7 L1321.5,408.6 L1323.4,409.4 L1325.3,410.3 L1327.3,411.1 L1329.2,411.8 L1331.1,412.6 L1333.0,413.3 L1334.9,413.9 L1336.9,414.6 L1338.8,415.2 L1340.7,415.7 L1342.6,416.3 L1344.6,416.7 L1346.5,417.2 L1348.4,417.6 L1350.3,418.0 L1352.3,418.3 L1354.2,418.6 L1356.1,418.8 L1358.0,419.0 L1360.0,419.2 L1361.9,419.3 L1363.8,419.4 L1365.7,419.4 L1367.7,419.4 L1369.6,419.3 L1371.5,419.2 L1373.4,419.0 L1375.4,418.8 L1377.3,418.6 L1379.2,418.3 L1381.1,417.9 L1383.1,417.5 L1385.0,417.0 L1386.9,416.6 L1388.8,416.0 L1390.8,415.4 L1392.7,414.8 L1394.6,414.2 L1396.5,413.6 L1398.5,412.9 L1400.4,412.2 L1402.3,411.4 L1404.2,410.7 L1406.2,409.9 L1408.1,409.2 L1410.0,408.4 L1411.9,407.7 L1413.9,406.9 L1415.8,406.1 L1417.7,405.4 L1419.6,404.6 L1421.6,403.9 L1423.5,403.2 L1425.4,402.5 L1427.3,401.8 L1429.3,401.1 L1431.2,400.5 L1433.1,399.9" fill="none" stroke="#c0873d" stroke-width="3.2" stroke-opacity="0.78" stroke-linecap="butt" stroke-linejoin="round"/>
<path d="M1127.1,277.6 L1129.0,279.2 L1130.9,280.8 L1132.9,282.4 L1134.8,284.0 L1136.7,285.6 L1138.6,287.1 L1140.6,288.7 L1142.5,290.2 L1144.4,291.8 L1146.3,293.3 L1148.3,294.8 L1150.2,296.3 L1152.1,297.8 L1154.0,299.3 L1156.0,300.7 L1157.9,302.2 L1159.8,303.7 L1161.7,305.2 L1163.7,306.6 L1165.6,308.1 L1167.5,309.6 L1169.4,311.0 L1171.4,312.5 L1173.3,313.9 L1175.2,315.4 L1177.1,316.8 L1179.1,318.3 L1181.0,319.8 L1182.9,321.2 L1184.8,322.7 L1186.8,324.2 L1188.7,325.6 L1190.6,327.1 L1192.5,328.6 L1194.5,330.1 L1196.4,331.6 L1198.3,333.1 L1200.2,334.6 L1202.2,336.2 L1204.1,337.7 L1206.0,339.2 L1207.9,340.8 L1209.9,342.3 L1211.8,343.9 L1213.7,345.5 L1215.6,347.0 L1217.6,348.6 L1219.5,350.2 L1221.4,351.8 L1223.3,353.3 L1225.3,354.9 L1227.2,356.5 L1229.1,358.1 L1231.0,359.7 L1232.9,361.2 L1234.9,362.8 L1236.8,364.4 L1238.7,366.0 L1240.6,367.5 L1242.6,369.1 L1244.5,370.7 L1246.4,372.2 L1248.3,373.8 L1250.3,375.4 L1252.2,376.9 L1254.1,378.5 L1256.0,380.0 L1258.0,381.6 L1259.9,383.1 L1261.8,384.6 L1263.7,386.2 L1265.7,387.7 L1267.6,389.2 L1269.5,390.8 L1271.4,392.3 L1273.4,393.8 L1275.3,395.3 L1277.2,396.8 L1279.1,398.3 L1281.1,399.8 L1283.0,401.3 L1284.9,402.7 L1286.8,404.2 L1288.8,405.7 L1290.7,407.1 L1292.6,408.6 L1294.5,410.0 L1296.5,411.4 L1298.4,412.9 L1300.3,414.3 L1302.2,415.7 L1304.2,417.1 L1306.1,418.5 L1308.0,419.8 L1309.9,421.2 L1311.9,422.5 L1313.8,423.8 L1315.7,425.1 L1317.6,426.3 L1319.6,427.5 L1321.5,428.6 L1323.4,429.8 L1325.3,430.8 L1327.3,431.9 L1329.2,432.9 L1331.1,433.8 L1333.0,434.7 L1334.9,435.6 L1336.9,436.4 L1338.8,437.2 L1340.7,437.9 L1342.6,438.6 L1344.6,439.2 L1346.5,439.8 L1348.4,440.4 L1350.3,440.9 L1352.3,441.3 L1354.2,441.7 L1356.1,442.1 L1358.0,442.4 L1360.0,442.7 L1361.9,442.9 L1363.8,443.0 L1365.7,443.2 L1367.7,443.2 L1369.6,443.2 L1371.5,443.2 L1373.4,443.1 L1375.4,443.0 L1377.3,442.8 L1379.2,442.6 L1381.1,442.3 L1383.1,442.0 L1385.0,441.6 L1386.9,441.2 L1388.8,440.8 L1390.8,440.3 L1392.7,439.7 L1394.6,439.1 L1396.5,438.5 L1398.5,437.9 L1400.4,437.2 L1402.3,436.5 L1404.2,435.8 L1406.2,435.1 L1408.1,434.3 L1410.0,433.5 L1411.9,432.8 L1413.9,431.9 L1415.8,431.1 L1417.7,430.3 L1419.6,429.5 L1421.6,428.7 L1423.5,427.8 L1425.4,427.0 L1427.3,426.2 L1429.3,425.4 L1431.2,424.6 L1433.1,423.8" fill="none" stroke="#52a592" stroke-width="3.2" stroke-opacity="0.82" stroke-linecap="butt" stroke-linejoin="round"/>
<path d="M1127.1,262.9 L1129.0,264.8 L1130.9,266.6 L1132.9,268.4 L1134.8,270.2 L1136.7,272.0 L1138.6,273.8 L1140.6,275.5 L1142.5,277.2 L1144.4,278.9 L1146.3,280.6 L1148.3,282.3 L1150.2,284.0 L1152.1,285.6 L1154.0,287.2 L1156.0,288.9 L1157.9,290.5 L1159.8,292.1 L1161.7,293.7 L1163.7,295.3 L1165.6,296.8 L1167.5,298.4 L1169.4,300.0 L1171.4,301.5 L1173.3,303.1 L1175.2,304.7 L1177.1,306.2 L1179.1,307.8 L1181.0,309.4 L1182.9,310.9 L1184.8,312.5 L1186.8,314.1 L1188.7,315.6 L1190.6,317.2 L1192.5,318.8 L1194.5,320.4 L1196.4,322.0 L1198.3,323.7 L1200.2,325.3 L1202.2,326.9 L1204.1,328.6 L1206.0,330.3 L1207.9,331.9 L1209.9,333.6 L1211.8,335.3 L1213.7,337.0 L1215.6,338.7 L1217.6,340.3 L1219.5,342.0 L1221.4,343.7 L1223.3,345.4 L1225.3,347.0 L1227.2,348.7 L1229.1,350.3 L1231.0,351.9 L1232.9,353.5 L1234.9,355.1 L1236.8,356.7 L1238.7,358.3 L1240.6,359.9 L1242.6,361.5 L1244.5,363.0 L1246.4,364.6 L1248.3,366.1 L1250.3,367.7 L1252.2,369.2 L1254.1,370.7 L1256.0,372.2 L1258.0,373.7 L1259.9,375.2 L1261.8,376.6 L1263.7,378.1 L1265.7,379.6 L1267.6,381.0 L1269.5,382.4 L1271.4,383.9 L1273.4,385.3 L1275.3,386.7 L1277.2,388.1 L1279.1,389.5 L1281.1,390.9 L1283.0,392.3 L1284.9,393.6 L1286.8,395.0 L1288.8,396.3 L1290.7,397.7 L1292.6,399.0 L1294.5,400.3 L1296.5,401.7 L1298.4,403.0 L1300.3,404.3 L1302.2,405.6 L1304.2,406.8 L1306.1,408.1 L1308.0,409.4 L1309.9,410.6 L1311.9,411.8 L1313.8,412.9 L1315.7,414.1 L1317.6,415.2 L1319.6,416.2 L1321.5,417.2 L1323.4,418.2 L1325.3,419.1 L1327.3,420.0 L1329.2,420.8 L1331.1,421.6 L1333.0,422.3 L1334.9,422.9 L1336.9,423.5 L1338.8,424.1 L1340.7,424.6 L1342.6,425.0 L1344.6,425.4 L1346.5,425.8 L1348.4,426.1 L1350.3,426.3 L1352.3,426.5 L1354.2,426.6 L1356.1,426.7 L1358.0,426.7 L1360.0,426.7 L1361.9,426.6 L1363.8,426.5 L1365.7,426.2 L1367.7,426.0 L1369.6,425.7 L1371.5,425.3 L1373.4,424.9 L1375.4,424.4 L1377.3,423.8 L1379.2,423.2 L1381.1,422.5 L1383.1,421.8 L1385.0,421.0 L1386.9,420.2 L1388.8,419.3 L1390.8,418.4 L1392.7,417.4 L1394.6,416.4 L1396.5,415.4 L1398.5,414.3 L1400.4,413.2 L1402.3,412.1 L1404.2,411.0 L1406.2,409.9 L1408.1,408.7 L1410.0,407.5 L1411.9,406.4 L1413.9,405.2 L1415.8,404.0 L1417.7,402.8 L1419.6,401.7 L1421.6,400.5 L1423.5,399.4 L1425.4,398.3 L1427.3,397.2 L1429.3,396.1 L1431.2,395.1 L1433.1,394.1" fill="none" stroke="#7b2d8e" stroke-width="3.2" stroke-opacity="0.75" stroke-linecap="butt" stroke-linejoin="round"/>
<circle cx="1364.5" cy="443.9" r="12.4" fill="#52a592"/>
<text x="1242.80" y="344.30" font-size="32.9" fill="#c0873d">Independent</text>
<text x="1136.70" y="433.60" font-size="32.9" fill="#7b2d8e">Democrat</text>
<text x="1272.40" y="486.00" font-size="32.9" fill="#62b5a2">Republican</text>
<rect x="1112.35" y="50.70" width="334.35" height="558.20" fill="none" stroke="#2b2b2b" stroke-width="3.40"/>
<rect x="1110.65" y="49.00" width="4.85" height="562.80" fill="#0c0c0c"/>
<rect x="1110.65" y="608.20" width="337.75" height="3.60" fill="#0c0c0c"/>
<rect x="1110.65" y="607.00" width="337.75" height="1.6" fill="#1d1d1d"/>
<rect x="1113.50" y="73.35" width="17.10" height="2.5" fill="#222"/>
<text x="1105.60" y="85.94" font-size="31.95" fill="#3d3d3d" text-anchor="end">0.6</text>
<rect x="1113.50" y="219.18" width="17.10" height="2.5" fill="#222"/>
<text x="1105.60" y="231.77" font-size="31.95" fill="#3d3d3d" text-anchor="end">0.5</text>
<rect x="1113.50" y="365.01" width="17.10" height="2.5" fill="#222"/>
<text x="1105.60" y="377.60" font-size="31.95" fill="#3d3d3d" text-anchor="end">0.4</text>
<rect x="1113.50" y="510.84" width="17.10" height="2.5" fill="#222"/>
<text x="1105.60" y="523.43" font-size="31.95" fill="#3d3d3d" text-anchor="end">0.3</text>
<rect x="1140.59" y="591.50" width="2.4" height="17" fill="#222"/>
<text transform="translate(1153.03,617.10) rotate(-90)" font-size="31.95" fill="#3d3d3d" text-anchor="end">7000</text>
<rect x="1173.80" y="591.50" width="2.4" height="17" fill="#222"/>
<text transform="translate(1186.24,617.10) rotate(-90)" font-size="31.95" fill="#3d3d3d" text-anchor="end">10000</text>
<rect x="1238.34" y="591.50" width="2.4" height="17" fill="#222"/>
<text transform="translate(1250.78,617.10) rotate(-90)" font-size="31.95" fill="#3d3d3d" text-anchor="end">20000</text>
<rect x="1276.09" y="591.50" width="2.4" height="17" fill="#222"/>
<text transform="translate(1288.53,617.10) rotate(-90)" font-size="31.95" fill="#3d3d3d" text-anchor="end">30000</text>
<rect x="1323.66" y="591.50" width="2.4" height="17" fill="#222"/>
<text transform="translate(1336.10,617.10) rotate(-90)" font-size="31.95" fill="#3d3d3d" text-anchor="end">50000</text>
<rect x="1354.99" y="591.50" width="2.4" height="17" fill="#222"/>
<text transform="translate(1367.43,617.10) rotate(-90)" font-size="31.95" fill="#3d3d3d" text-anchor="end">70000</text>
<rect x="1388.20" y="591.50" width="2.4" height="17" fill="#222"/>
<text transform="translate(1400.64,617.10) rotate(-90)" font-size="31.95" fill="#3d3d3d" text-anchor="end">100000</text>
<text transform="translate(1047.50,329.80) rotate(-90)" font-size="31.95" fill="#000" text-anchor="middle">Stress</text>
<text x="1118.40" y="753.10" font-size="31.95" fill="#000">Household Income ($)</text>
<text x="1004.40" y="34.00" font-size="43" fill="#000">(c)</text>
</g>
</svg>
</div>
</body></html>
